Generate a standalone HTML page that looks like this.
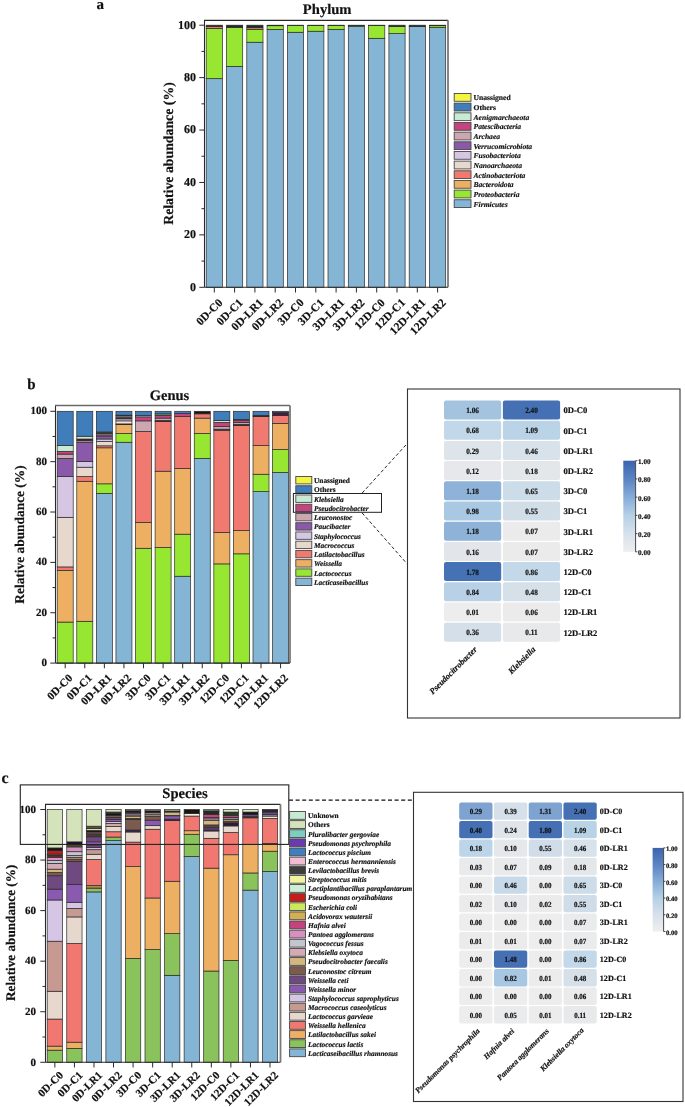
<!DOCTYPE html>
<html><head><meta charset="utf-8"><style>
html,body{margin:0;padding:0;background:#fff;overflow:hidden;}
svg{display:block;font-family:"Liberation Serif", serif;text-rendering:geometricPrecision;will-change:transform;}
text{stroke:#111;stroke-width:0.18px;}
</style></head><body>
<svg width="685" height="1107" viewBox="0 0 685 1107">
<defs><linearGradient id="cb" x1="0" y1="0" x2="0" y2="1">
<stop offset="0" stop-color="#3B63AF"/><stop offset="0.2" stop-color="#5A84C3"/><stop offset="0.4" stop-color="#86ACD7"/>
<stop offset="0.6" stop-color="#B4D0E6"/><stop offset="0.8" stop-color="#D7E1EB"/><stop offset="1" stop-color="#EEEEEE"/>
</linearGradient></defs>
<rect width="685" height="1107" fill="#fff"/>
<text x="96.50" y="9.00" font-size="15" font-weight="bold" text-anchor="start" fill="#111">a</text>
<text x="327.20" y="13.80" font-size="14.6" font-weight="bold" text-anchor="middle" fill="#111">Phylum</text>
<rect x="206.20" y="78.67" width="16.20" height="208.63" fill="#85B5D5" stroke="#2a2a2a" stroke-width="0.7"/>
<rect x="206.20" y="28.35" width="16.20" height="50.32" fill="#97E631" stroke="#2a2a2a" stroke-width="0.7"/>
<rect x="206.20" y="26.38" width="16.20" height="1.97" fill="#F07A70" stroke="#2a2a2a" stroke-width="0.7"/>
<rect x="206.20" y="25.20" width="16.20" height="1.18" fill="#2a2226" stroke="#2a2a2a" stroke-width="0.7"/>
<rect x="226.50" y="66.35" width="16.20" height="220.95" fill="#85B5D5" stroke="#2a2a2a" stroke-width="0.7"/>
<rect x="226.50" y="27.30" width="16.20" height="39.05" fill="#97E631" stroke="#2a2a2a" stroke-width="0.7"/>
<rect x="226.50" y="25.20" width="16.20" height="2.10" fill="#2a2226" stroke="#2a2a2a" stroke-width="0.7"/>
<rect x="246.80" y="42.24" width="16.20" height="245.06" fill="#85B5D5" stroke="#2a2a2a" stroke-width="0.7"/>
<rect x="246.80" y="29.39" width="16.20" height="12.84" fill="#97E631" stroke="#2a2a2a" stroke-width="0.7"/>
<rect x="246.80" y="27.82" width="16.20" height="1.57" fill="#EDAF62" stroke="#2a2a2a" stroke-width="0.7"/>
<rect x="246.80" y="25.20" width="16.20" height="2.62" fill="#2a2226" stroke="#2a2a2a" stroke-width="0.7"/>
<rect x="267.10" y="29.39" width="16.20" height="257.91" fill="#85B5D5" stroke="#2a2a2a" stroke-width="0.7"/>
<rect x="267.10" y="25.72" width="16.20" height="3.67" fill="#97E631" stroke="#2a2a2a" stroke-width="0.7"/>
<rect x="267.10" y="25.20" width="16.20" height="0.52" fill="#2a2226" stroke="#2a2a2a" stroke-width="0.7"/>
<rect x="287.40" y="32.28" width="16.20" height="255.02" fill="#85B5D5" stroke="#2a2a2a" stroke-width="0.7"/>
<rect x="287.40" y="25.46" width="16.20" height="6.81" fill="#97E631" stroke="#2a2a2a" stroke-width="0.7"/>
<rect x="287.40" y="25.20" width="16.20" height="0.26" fill="#2a2226" stroke="#2a2a2a" stroke-width="0.7"/>
<rect x="307.70" y="31.23" width="16.20" height="256.07" fill="#85B5D5" stroke="#2a2a2a" stroke-width="0.7"/>
<rect x="307.70" y="25.46" width="16.20" height="5.77" fill="#97E631" stroke="#2a2a2a" stroke-width="0.7"/>
<rect x="307.70" y="25.20" width="16.20" height="0.26" fill="#2a2226" stroke="#2a2a2a" stroke-width="0.7"/>
<rect x="328.00" y="29.39" width="16.20" height="257.91" fill="#85B5D5" stroke="#2a2a2a" stroke-width="0.7"/>
<rect x="328.00" y="25.46" width="16.20" height="3.93" fill="#97E631" stroke="#2a2a2a" stroke-width="0.7"/>
<rect x="328.00" y="25.20" width="16.20" height="0.26" fill="#2a2226" stroke="#2a2a2a" stroke-width="0.7"/>
<rect x="348.30" y="26.51" width="16.20" height="260.79" fill="#85B5D5" stroke="#2a2a2a" stroke-width="0.7"/>
<rect x="348.30" y="25.46" width="16.20" height="1.05" fill="#97E631" stroke="#2a2a2a" stroke-width="0.7"/>
<rect x="348.30" y="25.20" width="16.20" height="0.26" fill="#2a2226" stroke="#2a2a2a" stroke-width="0.7"/>
<rect x="368.60" y="38.31" width="16.20" height="249.00" fill="#85B5D5" stroke="#2a2a2a" stroke-width="0.7"/>
<rect x="368.60" y="25.46" width="16.20" height="12.84" fill="#97E631" stroke="#2a2a2a" stroke-width="0.7"/>
<rect x="368.60" y="25.20" width="16.20" height="0.26" fill="#2a2226" stroke="#2a2a2a" stroke-width="0.7"/>
<rect x="388.90" y="33.59" width="16.20" height="253.71" fill="#85B5D5" stroke="#2a2a2a" stroke-width="0.7"/>
<rect x="388.90" y="26.51" width="16.20" height="7.08" fill="#97E631" stroke="#2a2a2a" stroke-width="0.7"/>
<rect x="388.90" y="25.20" width="16.20" height="1.31" fill="#2a2226" stroke="#2a2a2a" stroke-width="0.7"/>
<rect x="409.20" y="26.51" width="16.20" height="260.79" fill="#85B5D5" stroke="#2a2a2a" stroke-width="0.7"/>
<rect x="409.20" y="25.20" width="16.20" height="1.31" fill="#2a2226" stroke="#2a2a2a" stroke-width="0.7"/>
<rect x="429.50" y="27.56" width="16.20" height="259.74" fill="#85B5D5" stroke="#2a2a2a" stroke-width="0.7"/>
<rect x="429.50" y="25.72" width="16.20" height="1.83" fill="#97E631" stroke="#2a2a2a" stroke-width="0.7"/>
<rect x="429.50" y="25.20" width="16.20" height="0.52" fill="#2a2226" stroke="#2a2a2a" stroke-width="0.7"/>
<line x1="204.50" y1="20.30" x2="204.50" y2="287.30" stroke="#2a2a2a" stroke-width="1.1"/>
<line x1="204.00" y1="20.30" x2="448.00" y2="20.30" stroke="#2a2a2a" stroke-width="1.3"/>
<line x1="448.00" y1="20.30" x2="448.00" y2="287.30" stroke="#7a7a7a" stroke-width="1.8"/>
<line x1="204.50" y1="287.30" x2="448.00" y2="287.30" stroke="#2a2a2a" stroke-width="1.1"/>
<line x1="199.30" y1="287.30" x2="204.50" y2="287.30" stroke="#2a2a2a" stroke-width="1"/>
<text x="196.00" y="290.70" font-size="12" font-weight="bold" text-anchor="end" fill="#111">0</text>
<line x1="201.50" y1="261.09" x2="204.50" y2="261.09" stroke="#2a2a2a" stroke-width="1"/>
<line x1="199.30" y1="234.88" x2="204.50" y2="234.88" stroke="#2a2a2a" stroke-width="1"/>
<text x="196.00" y="238.28" font-size="12" font-weight="bold" text-anchor="end" fill="#111">20</text>
<line x1="201.50" y1="208.67" x2="204.50" y2="208.67" stroke="#2a2a2a" stroke-width="1"/>
<line x1="199.30" y1="182.46" x2="204.50" y2="182.46" stroke="#2a2a2a" stroke-width="1"/>
<text x="196.00" y="185.86" font-size="12" font-weight="bold" text-anchor="end" fill="#111">40</text>
<line x1="201.50" y1="156.25" x2="204.50" y2="156.25" stroke="#2a2a2a" stroke-width="1"/>
<line x1="199.30" y1="130.04" x2="204.50" y2="130.04" stroke="#2a2a2a" stroke-width="1"/>
<text x="196.00" y="133.44" font-size="12" font-weight="bold" text-anchor="end" fill="#111">60</text>
<line x1="201.50" y1="103.83" x2="204.50" y2="103.83" stroke="#2a2a2a" stroke-width="1"/>
<line x1="199.30" y1="77.62" x2="204.50" y2="77.62" stroke="#2a2a2a" stroke-width="1"/>
<text x="196.00" y="81.02" font-size="12" font-weight="bold" text-anchor="end" fill="#111">80</text>
<line x1="201.50" y1="51.41" x2="204.50" y2="51.41" stroke="#2a2a2a" stroke-width="1"/>
<line x1="199.30" y1="25.20" x2="204.50" y2="25.20" stroke="#2a2a2a" stroke-width="1"/>
<text x="196.00" y="28.60" font-size="12" font-weight="bold" text-anchor="end" fill="#111">100</text>
<line x1="214.30" y1="287.30" x2="214.30" y2="292.50" stroke="#2a2a2a" stroke-width="1"/>
<text x="223.30" y="303.30" font-size="11.5" font-weight="bold" text-anchor="end" transform="rotate(-45 223.30 303.30)" fill="#111">0D-C0</text>
<line x1="234.60" y1="287.30" x2="234.60" y2="292.50" stroke="#2a2a2a" stroke-width="1"/>
<text x="243.60" y="303.30" font-size="11.5" font-weight="bold" text-anchor="end" transform="rotate(-45 243.60 303.30)" fill="#111">0D-C1</text>
<line x1="254.90" y1="287.30" x2="254.90" y2="292.50" stroke="#2a2a2a" stroke-width="1"/>
<text x="263.90" y="303.30" font-size="11.5" font-weight="bold" text-anchor="end" transform="rotate(-45 263.90 303.30)" fill="#111">0D-LR1</text>
<line x1="275.20" y1="287.30" x2="275.20" y2="292.50" stroke="#2a2a2a" stroke-width="1"/>
<text x="284.20" y="303.30" font-size="11.5" font-weight="bold" text-anchor="end" transform="rotate(-45 284.20 303.30)" fill="#111">0D-LR2</text>
<line x1="295.50" y1="287.30" x2="295.50" y2="292.50" stroke="#2a2a2a" stroke-width="1"/>
<text x="304.50" y="303.30" font-size="11.5" font-weight="bold" text-anchor="end" transform="rotate(-45 304.50 303.30)" fill="#111">3D-C0</text>
<line x1="315.80" y1="287.30" x2="315.80" y2="292.50" stroke="#2a2a2a" stroke-width="1"/>
<text x="324.80" y="303.30" font-size="11.5" font-weight="bold" text-anchor="end" transform="rotate(-45 324.80 303.30)" fill="#111">3D-C1</text>
<line x1="336.10" y1="287.30" x2="336.10" y2="292.50" stroke="#2a2a2a" stroke-width="1"/>
<text x="345.10" y="303.30" font-size="11.5" font-weight="bold" text-anchor="end" transform="rotate(-45 345.10 303.30)" fill="#111">3D-LR1</text>
<line x1="356.40" y1="287.30" x2="356.40" y2="292.50" stroke="#2a2a2a" stroke-width="1"/>
<text x="365.40" y="303.30" font-size="11.5" font-weight="bold" text-anchor="end" transform="rotate(-45 365.40 303.30)" fill="#111">3D-LR2</text>
<line x1="376.70" y1="287.30" x2="376.70" y2="292.50" stroke="#2a2a2a" stroke-width="1"/>
<text x="385.70" y="303.30" font-size="11.5" font-weight="bold" text-anchor="end" transform="rotate(-45 385.70 303.30)" fill="#111">12D-C0</text>
<line x1="397.00" y1="287.30" x2="397.00" y2="292.50" stroke="#2a2a2a" stroke-width="1"/>
<text x="406.00" y="303.30" font-size="11.5" font-weight="bold" text-anchor="end" transform="rotate(-45 406.00 303.30)" fill="#111">12D-C1</text>
<line x1="417.30" y1="287.30" x2="417.30" y2="292.50" stroke="#2a2a2a" stroke-width="1"/>
<text x="426.30" y="303.30" font-size="11.5" font-weight="bold" text-anchor="end" transform="rotate(-45 426.30 303.30)" fill="#111">12D-LR1</text>
<line x1="437.60" y1="287.30" x2="437.60" y2="292.50" stroke="#2a2a2a" stroke-width="1"/>
<text x="446.60" y="303.30" font-size="11.5" font-weight="bold" text-anchor="end" transform="rotate(-45 446.60 303.30)" fill="#111">12D-LR2</text>
<text x="172.50" y="153.50" font-size="13.8" font-weight="bold" text-anchor="middle" transform="rotate(-90 172.5 153.5)" fill="#111">Relative abundance (%)</text>
<rect x="454.20" y="93.50" width="16.80" height="7.80" fill="#F4F443" stroke="#464646" stroke-width="0.9"/>
<text x="473.50" y="100.30" font-size="7.6" font-weight="bold" text-anchor="start" fill="#111">Unassigned</text>
<rect x="454.20" y="103.16" width="16.80" height="7.80" fill="#3F7EBB" stroke="#464646" stroke-width="0.9"/>
<text x="473.50" y="109.96" font-size="7.6" font-weight="bold" text-anchor="start" fill="#111">Others</text>
<rect x="454.20" y="112.82" width="16.80" height="7.80" fill="#C8EAD3" stroke="#464646" stroke-width="0.9"/>
<text x="473.50" y="119.62" font-size="7.6" font-weight="bold" font-style="italic" text-anchor="start" fill="#111">Aenigmarchaeota</text>
<rect x="454.20" y="122.48" width="16.80" height="7.80" fill="#C4447F" stroke="#464646" stroke-width="0.9"/>
<text x="473.50" y="129.28" font-size="7.6" font-weight="bold" font-style="italic" text-anchor="start" fill="#111">Patescibacteria</text>
<rect x="454.20" y="132.14" width="16.80" height="7.80" fill="#CCA7B1" stroke="#464646" stroke-width="0.9"/>
<text x="473.50" y="138.94" font-size="7.6" font-weight="bold" font-style="italic" text-anchor="start" fill="#111">Archaea</text>
<rect x="454.20" y="141.80" width="16.80" height="7.80" fill="#8A59AA" stroke="#464646" stroke-width="0.9"/>
<text x="473.50" y="148.60" font-size="7.6" font-weight="bold" font-style="italic" text-anchor="start" fill="#111">Verrucomicrobiota</text>
<rect x="454.20" y="151.46" width="16.80" height="7.80" fill="#D6C6E4" stroke="#464646" stroke-width="0.9"/>
<text x="473.50" y="158.26" font-size="7.6" font-weight="bold" font-style="italic" text-anchor="start" fill="#111">Fusobacteriota</text>
<rect x="454.20" y="161.12" width="16.80" height="7.80" fill="#E6D8CC" stroke="#464646" stroke-width="0.9"/>
<text x="473.50" y="167.92" font-size="7.6" font-weight="bold" font-style="italic" text-anchor="start" fill="#111">Nanoarchaeota</text>
<rect x="454.20" y="170.78" width="16.80" height="7.80" fill="#F07A70" stroke="#464646" stroke-width="0.9"/>
<text x="473.50" y="177.58" font-size="7.6" font-weight="bold" font-style="italic" text-anchor="start" fill="#111">Actinobacteriota</text>
<rect x="454.20" y="180.44" width="16.80" height="7.80" fill="#EDAF62" stroke="#464646" stroke-width="0.9"/>
<text x="473.50" y="187.24" font-size="7.6" font-weight="bold" font-style="italic" text-anchor="start" fill="#111">Bacteroidota</text>
<rect x="454.20" y="190.10" width="16.80" height="7.80" fill="#97E631" stroke="#464646" stroke-width="0.9"/>
<text x="473.50" y="196.90" font-size="7.6" font-weight="bold" font-style="italic" text-anchor="start" fill="#111">Proteobacteria</text>
<rect x="454.20" y="199.76" width="16.80" height="7.80" fill="#85B5D5" stroke="#464646" stroke-width="0.9"/>
<text x="473.50" y="206.56" font-size="7.6" font-weight="bold" font-style="italic" text-anchor="start" fill="#111">Firmicutes</text>
<text x="27.30" y="389.40" font-size="15" font-weight="bold" text-anchor="start" fill="#111">b</text>
<text x="169.50" y="399.60" font-size="14.5" font-weight="bold" text-anchor="middle" fill="#111">Genus</text>
<rect x="57.20" y="622.06" width="16.00" height="41.04" fill="#97E631" stroke="#2a2a2a" stroke-width="0.7"/>
<rect x="57.20" y="570.44" width="16.00" height="51.62" fill="#EDAF62" stroke="#2a2a2a" stroke-width="0.7"/>
<rect x="57.20" y="566.91" width="16.00" height="3.53" fill="#F07A70" stroke="#2a2a2a" stroke-width="0.7"/>
<rect x="57.20" y="517.31" width="16.00" height="49.60" fill="#E6D8CC" stroke="#2a2a2a" stroke-width="0.7"/>
<rect x="57.20" y="476.52" width="16.00" height="40.79" fill="#D6C6E4" stroke="#2a2a2a" stroke-width="0.7"/>
<rect x="57.20" y="458.39" width="16.00" height="18.13" fill="#8A59AA" stroke="#2a2a2a" stroke-width="0.7"/>
<rect x="57.20" y="454.11" width="16.00" height="4.28" fill="#CCA7B1" stroke="#2a2a2a" stroke-width="0.7"/>
<rect x="57.20" y="451.34" width="16.00" height="2.77" fill="#C4447F" stroke="#2a2a2a" stroke-width="0.7"/>
<rect x="57.20" y="445.54" width="16.00" height="5.79" fill="#C8EAD3" stroke="#2a2a2a" stroke-width="0.7"/>
<rect x="57.20" y="411.30" width="16.00" height="34.24" fill="#3F7EBB" stroke="#2a2a2a" stroke-width="0.7"/>
<rect x="76.78" y="621.30" width="16.00" height="41.80" fill="#97E631" stroke="#2a2a2a" stroke-width="0.7"/>
<rect x="76.78" y="481.30" width="16.00" height="140.00" fill="#EDAF62" stroke="#2a2a2a" stroke-width="0.7"/>
<rect x="76.78" y="476.52" width="16.00" height="4.78" fill="#F07A70" stroke="#2a2a2a" stroke-width="0.7"/>
<rect x="76.78" y="467.20" width="16.00" height="9.32" fill="#E6D8CC" stroke="#2a2a2a" stroke-width="0.7"/>
<rect x="76.78" y="461.41" width="16.00" height="5.79" fill="#D6C6E4" stroke="#2a2a2a" stroke-width="0.7"/>
<rect x="76.78" y="442.27" width="16.00" height="19.14" fill="#8A59AA" stroke="#2a2a2a" stroke-width="0.7"/>
<rect x="76.78" y="440.76" width="16.00" height="1.51" fill="#CCA7B1" stroke="#2a2a2a" stroke-width="0.7"/>
<rect x="76.78" y="439.00" width="16.00" height="1.76" fill="#5a1a38" stroke="#2a2a2a" stroke-width="0.7"/>
<rect x="76.78" y="436.23" width="16.00" height="2.77" fill="#C8EAD3" stroke="#2a2a2a" stroke-width="0.7"/>
<rect x="76.78" y="411.30" width="16.00" height="24.93" fill="#3F7EBB" stroke="#2a2a2a" stroke-width="0.7"/>
<rect x="96.36" y="493.39" width="16.00" height="169.71" fill="#85B5D5" stroke="#2a2a2a" stroke-width="0.7"/>
<rect x="96.36" y="483.82" width="16.00" height="9.57" fill="#97E631" stroke="#2a2a2a" stroke-width="0.7"/>
<rect x="96.36" y="447.81" width="16.00" height="36.01" fill="#EDAF62" stroke="#2a2a2a" stroke-width="0.7"/>
<rect x="96.36" y="445.80" width="16.00" height="2.01" fill="#F07A70" stroke="#2a2a2a" stroke-width="0.7"/>
<rect x="96.36" y="441.52" width="16.00" height="4.28" fill="#E6D8CC" stroke="#2a2a2a" stroke-width="0.7"/>
<rect x="96.36" y="439.00" width="16.00" height="2.52" fill="#D6C6E4" stroke="#2a2a2a" stroke-width="0.7"/>
<rect x="96.36" y="435.98" width="16.00" height="3.02" fill="#8A59AA" stroke="#2a2a2a" stroke-width="0.7"/>
<rect x="96.36" y="433.46" width="16.00" height="2.52" fill="#7a6470" stroke="#2a2a2a" stroke-width="0.7"/>
<rect x="96.36" y="431.95" width="16.00" height="1.51" fill="#4a4a3a" stroke="#2a2a2a" stroke-width="0.7"/>
<rect x="96.36" y="411.30" width="16.00" height="20.65" fill="#3F7EBB" stroke="#2a2a2a" stroke-width="0.7"/>
<rect x="115.94" y="442.27" width="16.00" height="220.83" fill="#85B5D5" stroke="#2a2a2a" stroke-width="0.7"/>
<rect x="115.94" y="433.46" width="16.00" height="8.81" fill="#97E631" stroke="#2a2a2a" stroke-width="0.7"/>
<rect x="115.94" y="424.65" width="16.00" height="8.81" fill="#EDAF62" stroke="#2a2a2a" stroke-width="0.7"/>
<rect x="115.94" y="423.89" width="16.00" height="0.76" fill="#6a5040" stroke="#2a2a2a" stroke-width="0.7"/>
<rect x="115.94" y="420.87" width="16.00" height="3.02" fill="#F2E6DA" stroke="#2a2a2a" stroke-width="0.7"/>
<rect x="115.94" y="418.85" width="16.00" height="2.01" fill="#D6C6E4" stroke="#2a2a2a" stroke-width="0.7"/>
<rect x="115.94" y="417.60" width="16.00" height="1.26" fill="#3a2a40" stroke="#2a2a2a" stroke-width="0.7"/>
<rect x="115.94" y="415.96" width="16.00" height="1.64" fill="#CCA7B1" stroke="#2a2a2a" stroke-width="0.7"/>
<rect x="115.94" y="415.18" width="16.00" height="0.78" fill="#151515" stroke="#2a2a2a" stroke-width="0.7"/>
<rect x="115.94" y="411.30" width="16.00" height="3.88" fill="#3F7EBB" stroke="#2a2a2a" stroke-width="0.7"/>
<rect x="135.52" y="548.28" width="16.00" height="114.82" fill="#97E631" stroke="#2a2a2a" stroke-width="0.7"/>
<rect x="135.52" y="522.34" width="16.00" height="25.94" fill="#EDAF62" stroke="#2a2a2a" stroke-width="0.7"/>
<rect x="135.52" y="431.44" width="16.00" height="90.90" fill="#F07A70" stroke="#2a2a2a" stroke-width="0.7"/>
<rect x="135.52" y="420.87" width="16.00" height="10.58" fill="#CCA7B1" stroke="#2a2a2a" stroke-width="0.7"/>
<rect x="135.52" y="416.84" width="16.00" height="4.03" fill="#C4447F" stroke="#2a2a2a" stroke-width="0.7"/>
<rect x="135.52" y="415.58" width="16.00" height="1.26" fill="#C8EAD3" stroke="#2a2a2a" stroke-width="0.7"/>
<rect x="135.52" y="411.30" width="16.00" height="4.28" fill="#3F7EBB" stroke="#2a2a2a" stroke-width="0.7"/>
<rect x="155.10" y="547.52" width="16.00" height="115.58" fill="#97E631" stroke="#2a2a2a" stroke-width="0.7"/>
<rect x="155.10" y="471.23" width="16.00" height="76.30" fill="#EDAF62" stroke="#2a2a2a" stroke-width="0.7"/>
<rect x="155.10" y="421.62" width="16.00" height="49.60" fill="#F07A70" stroke="#2a2a2a" stroke-width="0.7"/>
<rect x="155.10" y="420.36" width="16.00" height="1.26" fill="#3a2030" stroke="#2a2a2a" stroke-width="0.7"/>
<rect x="155.10" y="418.10" width="16.00" height="2.27" fill="#CCA7B1" stroke="#2a2a2a" stroke-width="0.7"/>
<rect x="155.10" y="415.58" width="16.00" height="2.52" fill="#C4447F" stroke="#2a2a2a" stroke-width="0.7"/>
<rect x="155.10" y="413.82" width="16.00" height="1.76" fill="#7a9a70" stroke="#2a2a2a" stroke-width="0.7"/>
<rect x="155.10" y="411.30" width="16.00" height="2.52" fill="#3F7EBB" stroke="#2a2a2a" stroke-width="0.7"/>
<rect x="174.68" y="576.23" width="16.00" height="86.87" fill="#85B5D5" stroke="#2a2a2a" stroke-width="0.7"/>
<rect x="174.68" y="534.18" width="16.00" height="42.05" fill="#97E631" stroke="#2a2a2a" stroke-width="0.7"/>
<rect x="174.68" y="468.46" width="16.00" height="65.72" fill="#EDAF62" stroke="#2a2a2a" stroke-width="0.7"/>
<rect x="174.68" y="416.59" width="16.00" height="51.87" fill="#F07A70" stroke="#2a2a2a" stroke-width="0.7"/>
<rect x="174.68" y="413.57" width="16.00" height="3.02" fill="#C4447F" stroke="#2a2a2a" stroke-width="0.7"/>
<rect x="174.68" y="411.30" width="16.00" height="2.27" fill="#3F7EBB" stroke="#2a2a2a" stroke-width="0.7"/>
<rect x="194.26" y="458.39" width="16.00" height="204.71" fill="#85B5D5" stroke="#2a2a2a" stroke-width="0.7"/>
<rect x="194.26" y="433.46" width="16.00" height="24.93" fill="#97E631" stroke="#2a2a2a" stroke-width="0.7"/>
<rect x="194.26" y="418.10" width="16.00" height="15.36" fill="#EDAF62" stroke="#2a2a2a" stroke-width="0.7"/>
<rect x="194.26" y="413.82" width="16.00" height="4.28" fill="#F07A70" stroke="#2a2a2a" stroke-width="0.7"/>
<rect x="194.26" y="411.30" width="16.00" height="2.52" fill="#151515" stroke="#2a2a2a" stroke-width="0.7"/>
<rect x="213.84" y="563.89" width="16.00" height="99.21" fill="#97E631" stroke="#2a2a2a" stroke-width="0.7"/>
<rect x="213.84" y="532.42" width="16.00" height="31.48" fill="#EDAF62" stroke="#2a2a2a" stroke-width="0.7"/>
<rect x="213.84" y="430.19" width="16.00" height="102.23" fill="#F07A70" stroke="#2a2a2a" stroke-width="0.7"/>
<rect x="213.84" y="429.18" width="16.00" height="1.01" fill="#3a2030" stroke="#2a2a2a" stroke-width="0.7"/>
<rect x="213.84" y="426.66" width="16.00" height="2.52" fill="#CCA7B1" stroke="#2a2a2a" stroke-width="0.7"/>
<rect x="213.84" y="422.38" width="16.00" height="4.28" fill="#C4447F" stroke="#2a2a2a" stroke-width="0.7"/>
<rect x="213.84" y="420.36" width="16.00" height="2.01" fill="#C8EAD3" stroke="#2a2a2a" stroke-width="0.7"/>
<rect x="213.84" y="411.30" width="16.00" height="9.06" fill="#3F7EBB" stroke="#2a2a2a" stroke-width="0.7"/>
<rect x="233.42" y="553.82" width="16.00" height="109.28" fill="#97E631" stroke="#2a2a2a" stroke-width="0.7"/>
<rect x="233.42" y="530.65" width="16.00" height="23.17" fill="#EDAF62" stroke="#2a2a2a" stroke-width="0.7"/>
<rect x="233.42" y="425.40" width="16.00" height="105.25" fill="#F07A70" stroke="#2a2a2a" stroke-width="0.7"/>
<rect x="233.42" y="424.14" width="16.00" height="1.26" fill="#2a2030" stroke="#2a2a2a" stroke-width="0.7"/>
<rect x="233.42" y="422.63" width="16.00" height="1.51" fill="#E8C8D0" stroke="#2a2a2a" stroke-width="0.7"/>
<rect x="233.42" y="420.62" width="16.00" height="2.01" fill="#C4447F" stroke="#2a2a2a" stroke-width="0.7"/>
<rect x="233.42" y="419.36" width="16.00" height="1.26" fill="#8aa070" stroke="#2a2a2a" stroke-width="0.7"/>
<rect x="233.42" y="411.30" width="16.00" height="8.06" fill="#3F7EBB" stroke="#2a2a2a" stroke-width="0.7"/>
<rect x="253.00" y="491.62" width="16.00" height="171.48" fill="#85B5D5" stroke="#2a2a2a" stroke-width="0.7"/>
<rect x="253.00" y="474.25" width="16.00" height="17.37" fill="#97E631" stroke="#2a2a2a" stroke-width="0.7"/>
<rect x="253.00" y="445.54" width="16.00" height="28.71" fill="#EDAF62" stroke="#2a2a2a" stroke-width="0.7"/>
<rect x="253.00" y="416.59" width="16.00" height="28.96" fill="#F07A70" stroke="#2a2a2a" stroke-width="0.7"/>
<rect x="253.00" y="415.33" width="16.00" height="1.26" fill="#151515" stroke="#2a2a2a" stroke-width="0.7"/>
<rect x="253.00" y="411.30" width="16.00" height="4.03" fill="#3F7EBB" stroke="#2a2a2a" stroke-width="0.7"/>
<rect x="272.58" y="472.49" width="16.00" height="190.61" fill="#85B5D5" stroke="#2a2a2a" stroke-width="0.7"/>
<rect x="272.58" y="449.57" width="16.00" height="22.91" fill="#97E631" stroke="#2a2a2a" stroke-width="0.7"/>
<rect x="272.58" y="423.39" width="16.00" height="26.19" fill="#EDAF62" stroke="#2a2a2a" stroke-width="0.7"/>
<rect x="272.58" y="415.58" width="16.00" height="7.81" fill="#F07A70" stroke="#2a2a2a" stroke-width="0.7"/>
<rect x="272.58" y="412.56" width="16.00" height="3.02" fill="#4a1a3a" stroke="#2a2a2a" stroke-width="0.7"/>
<rect x="272.58" y="411.30" width="16.00" height="1.26" fill="#3F7EBB" stroke="#2a2a2a" stroke-width="0.7"/>
<line x1="55.50" y1="405.50" x2="55.50" y2="663.10" stroke="#2a2a2a" stroke-width="1.1"/>
<line x1="55.00" y1="405.50" x2="290.00" y2="405.50" stroke="#6a6a6a" stroke-width="1.3"/>
<line x1="290.00" y1="405.50" x2="290.00" y2="663.10" stroke="#7a7a7a" stroke-width="1.8"/>
<line x1="55.50" y1="663.10" x2="290.00" y2="663.10" stroke="#2a2a2a" stroke-width="1.1"/>
<line x1="50.30" y1="663.10" x2="55.50" y2="663.10" stroke="#2a2a2a" stroke-width="1"/>
<text x="47.00" y="666.20" font-size="11" font-weight="bold" text-anchor="end" fill="#111">0</text>
<line x1="52.50" y1="637.92" x2="55.50" y2="637.92" stroke="#2a2a2a" stroke-width="1"/>
<line x1="50.30" y1="612.74" x2="55.50" y2="612.74" stroke="#2a2a2a" stroke-width="1"/>
<text x="47.00" y="615.84" font-size="11" font-weight="bold" text-anchor="end" fill="#111">20</text>
<line x1="52.50" y1="587.56" x2="55.50" y2="587.56" stroke="#2a2a2a" stroke-width="1"/>
<line x1="50.30" y1="562.38" x2="55.50" y2="562.38" stroke="#2a2a2a" stroke-width="1"/>
<text x="47.00" y="565.48" font-size="11" font-weight="bold" text-anchor="end" fill="#111">40</text>
<line x1="52.50" y1="537.20" x2="55.50" y2="537.20" stroke="#2a2a2a" stroke-width="1"/>
<line x1="50.30" y1="512.02" x2="55.50" y2="512.02" stroke="#2a2a2a" stroke-width="1"/>
<text x="47.00" y="515.12" font-size="11" font-weight="bold" text-anchor="end" fill="#111">60</text>
<line x1="52.50" y1="486.84" x2="55.50" y2="486.84" stroke="#2a2a2a" stroke-width="1"/>
<line x1="50.30" y1="461.66" x2="55.50" y2="461.66" stroke="#2a2a2a" stroke-width="1"/>
<text x="47.00" y="464.76" font-size="11" font-weight="bold" text-anchor="end" fill="#111">80</text>
<line x1="52.50" y1="436.48" x2="55.50" y2="436.48" stroke="#2a2a2a" stroke-width="1"/>
<line x1="50.30" y1="411.30" x2="55.50" y2="411.30" stroke="#2a2a2a" stroke-width="1"/>
<text x="47.00" y="414.40" font-size="11" font-weight="bold" text-anchor="end" fill="#111">100</text>
<line x1="65.20" y1="663.10" x2="65.20" y2="668.30" stroke="#2a2a2a" stroke-width="1"/>
<text x="73.20" y="678.60" font-size="11.1" font-weight="bold" text-anchor="end" transform="rotate(-45 73.20 678.60)" fill="#111">0D-C0</text>
<line x1="84.78" y1="663.10" x2="84.78" y2="668.30" stroke="#2a2a2a" stroke-width="1"/>
<text x="92.78" y="678.60" font-size="11.1" font-weight="bold" text-anchor="end" transform="rotate(-45 92.78 678.60)" fill="#111">0D-C1</text>
<line x1="104.36" y1="663.10" x2="104.36" y2="668.30" stroke="#2a2a2a" stroke-width="1"/>
<text x="112.36" y="678.60" font-size="11.1" font-weight="bold" text-anchor="end" transform="rotate(-45 112.36 678.60)" fill="#111">0D-LR1</text>
<line x1="123.94" y1="663.10" x2="123.94" y2="668.30" stroke="#2a2a2a" stroke-width="1"/>
<text x="131.94" y="678.60" font-size="11.1" font-weight="bold" text-anchor="end" transform="rotate(-45 131.94 678.60)" fill="#111">0D-LR2</text>
<line x1="143.52" y1="663.10" x2="143.52" y2="668.30" stroke="#2a2a2a" stroke-width="1"/>
<text x="151.52" y="678.60" font-size="11.1" font-weight="bold" text-anchor="end" transform="rotate(-45 151.52 678.60)" fill="#111">3D-C0</text>
<line x1="163.10" y1="663.10" x2="163.10" y2="668.30" stroke="#2a2a2a" stroke-width="1"/>
<text x="171.10" y="678.60" font-size="11.1" font-weight="bold" text-anchor="end" transform="rotate(-45 171.10 678.60)" fill="#111">3D-C1</text>
<line x1="182.68" y1="663.10" x2="182.68" y2="668.30" stroke="#2a2a2a" stroke-width="1"/>
<text x="190.68" y="678.60" font-size="11.1" font-weight="bold" text-anchor="end" transform="rotate(-45 190.68 678.60)" fill="#111">3D-LR1</text>
<line x1="202.26" y1="663.10" x2="202.26" y2="668.30" stroke="#2a2a2a" stroke-width="1"/>
<text x="210.26" y="678.60" font-size="11.1" font-weight="bold" text-anchor="end" transform="rotate(-45 210.26 678.60)" fill="#111">3D-LR2</text>
<line x1="221.84" y1="663.10" x2="221.84" y2="668.30" stroke="#2a2a2a" stroke-width="1"/>
<text x="229.84" y="678.60" font-size="11.1" font-weight="bold" text-anchor="end" transform="rotate(-45 229.84 678.60)" fill="#111">12D-C0</text>
<line x1="241.42" y1="663.10" x2="241.42" y2="668.30" stroke="#2a2a2a" stroke-width="1"/>
<text x="249.42" y="678.60" font-size="11.1" font-weight="bold" text-anchor="end" transform="rotate(-45 249.42 678.60)" fill="#111">12D-C1</text>
<line x1="261.00" y1="663.10" x2="261.00" y2="668.30" stroke="#2a2a2a" stroke-width="1"/>
<text x="269.00" y="678.60" font-size="11.1" font-weight="bold" text-anchor="end" transform="rotate(-45 269.00 678.60)" fill="#111">12D-LR1</text>
<line x1="280.58" y1="663.10" x2="280.58" y2="668.30" stroke="#2a2a2a" stroke-width="1"/>
<text x="288.58" y="678.60" font-size="11.1" font-weight="bold" text-anchor="end" transform="rotate(-45 288.58 678.60)" fill="#111">12D-LR2</text>
<text x="24.00" y="534.50" font-size="13.4" font-weight="bold" text-anchor="middle" transform="rotate(-90 24.0 534.5)" fill="#111">Relative abundance (%)</text>
<rect x="295.80" y="476.50" width="16.00" height="7.40" fill="#F4F443" stroke="#464646" stroke-width="0.9"/>
<text x="314.00" y="483.10" font-size="7.35" font-weight="bold" text-anchor="start" fill="#111">Unassigned</text>
<rect x="295.80" y="485.74" width="16.00" height="7.40" fill="#3F7EBB" stroke="#464646" stroke-width="0.9"/>
<text x="314.00" y="492.34" font-size="7.35" font-weight="bold" text-anchor="start" fill="#111">Others</text>
<rect x="295.80" y="494.98" width="16.00" height="7.40" fill="#C8EAD3" stroke="#464646" stroke-width="0.9"/>
<text x="314.00" y="501.58" font-size="7.35" font-weight="bold" font-style="italic" text-anchor="start" fill="#111">Klebsiella</text>
<rect x="295.80" y="504.22" width="16.00" height="7.40" fill="#C4447F" stroke="#464646" stroke-width="0.9"/>
<text x="314.00" y="510.82" font-size="7.35" font-weight="bold" font-style="italic" text-anchor="start" fill="#111">Pseudocitrobacter</text>
<rect x="295.80" y="513.46" width="16.00" height="7.40" fill="#CCA7B1" stroke="#464646" stroke-width="0.9"/>
<text x="314.00" y="520.06" font-size="7.35" font-weight="bold" font-style="italic" text-anchor="start" fill="#111">Leuconostoc</text>
<rect x="295.80" y="522.70" width="16.00" height="7.40" fill="#8A59AA" stroke="#464646" stroke-width="0.9"/>
<text x="314.00" y="529.30" font-size="7.35" font-weight="bold" font-style="italic" text-anchor="start" fill="#111">Paucibacter</text>
<rect x="295.80" y="531.94" width="16.00" height="7.40" fill="#D6C6E4" stroke="#464646" stroke-width="0.9"/>
<text x="314.00" y="538.54" font-size="7.35" font-weight="bold" font-style="italic" text-anchor="start" fill="#111">Staphylococcus</text>
<rect x="295.80" y="541.18" width="16.00" height="7.40" fill="#E6D8CC" stroke="#464646" stroke-width="0.9"/>
<text x="314.00" y="547.78" font-size="7.35" font-weight="bold" font-style="italic" text-anchor="start" fill="#111">Macrococcus</text>
<rect x="295.80" y="550.42" width="16.00" height="7.40" fill="#F07A70" stroke="#464646" stroke-width="0.9"/>
<text x="314.00" y="557.02" font-size="7.35" font-weight="bold" font-style="italic" text-anchor="start" fill="#111">Latilactobacillus</text>
<rect x="295.80" y="559.66" width="16.00" height="7.40" fill="#EDAF62" stroke="#464646" stroke-width="0.9"/>
<text x="314.00" y="566.26" font-size="7.35" font-weight="bold" font-style="italic" text-anchor="start" fill="#111">Weissella</text>
<rect x="295.80" y="568.90" width="16.00" height="7.40" fill="#97E631" stroke="#464646" stroke-width="0.9"/>
<text x="314.00" y="575.50" font-size="7.35" font-weight="bold" font-style="italic" text-anchor="start" fill="#111">Lactococcus</text>
<rect x="295.80" y="578.14" width="16.00" height="7.40" fill="#85B5D5" stroke="#464646" stroke-width="0.9"/>
<text x="314.00" y="584.74" font-size="7.35" font-weight="bold" font-style="italic" text-anchor="start" fill="#111">Lacticaseibacillus</text>
<rect x="293.40" y="493.50" width="88.10" height="18.80" fill="none" stroke="#222" stroke-width="1.0"/>
<line x1="362.20" y1="493.00" x2="406.80" y2="444.00" stroke="#222" stroke-width="1.0" stroke-dasharray="3.3,2.3"/>
<line x1="362.20" y1="513.00" x2="406.80" y2="563.50" stroke="#222" stroke-width="1.0" stroke-dasharray="3.3,2.3"/>
<rect x="407.50" y="389.00" width="272.50" height="329.00" fill="white" stroke="#333" stroke-width="1.1"/>
<rect x="444.00" y="400.50" width="57.20" height="19.00" fill="#A3C3DE" rx="2"/>
<text x="0.00" y="0.00" font-size="8.1" font-weight="bold" stroke="#111" stroke-width="0.3" text-anchor="middle" transform="translate(472.60 413.17) scale(0.9 1)" fill="#111">1.06</text>
<rect x="502.90" y="400.50" width="57.20" height="19.00" fill="#4570B4" rx="2"/>
<text x="0.00" y="0.00" font-size="8.1" font-weight="bold" stroke="#111" stroke-width="0.3" text-anchor="middle" transform="translate(531.50 413.17) scale(0.9 1)" fill="#111">2.40</text>
<text x="563.50" y="413.32" font-size="8.6" font-weight="bold" text-anchor="start" fill="#111">0D-C0</text>
<rect x="444.00" y="420.70" width="57.20" height="19.00" fill="#C2D7E7" rx="2"/>
<text x="0.00" y="0.00" font-size="8.1" font-weight="bold" stroke="#111" stroke-width="0.3" text-anchor="middle" transform="translate(472.60 433.37) scale(0.9 1)" fill="#111">0.68</text>
<rect x="502.90" y="420.70" width="57.20" height="19.00" fill="#BAD3E6" rx="2"/>
<text x="0.00" y="0.00" font-size="8.1" font-weight="bold" stroke="#111" stroke-width="0.3" text-anchor="middle" transform="translate(531.50 433.37) scale(0.9 1)" fill="#111">1.09</text>
<text x="563.50" y="433.52" font-size="8.6" font-weight="bold" text-anchor="start" fill="#111">0D-C1</text>
<rect x="444.00" y="440.90" width="57.20" height="19.00" fill="#DDE4EA" rx="2"/>
<text x="0.00" y="0.00" font-size="8.1" font-weight="bold" stroke="#111" stroke-width="0.3" text-anchor="middle" transform="translate(472.60 453.57) scale(0.9 1)" fill="#111">0.29</text>
<rect x="502.90" y="440.90" width="57.20" height="19.00" fill="#D8E2EA" rx="2"/>
<text x="0.00" y="0.00" font-size="8.1" font-weight="bold" stroke="#111" stroke-width="0.3" text-anchor="middle" transform="translate(531.50 453.57) scale(0.9 1)" fill="#111">0.46</text>
<text x="563.50" y="453.72" font-size="8.6" font-weight="bold" text-anchor="start" fill="#111">0D-LR1</text>
<rect x="444.00" y="461.10" width="57.20" height="19.00" fill="#E6E8EB" rx="2"/>
<text x="0.00" y="0.00" font-size="8.1" font-weight="bold" stroke="#111" stroke-width="0.3" text-anchor="middle" transform="translate(472.60 473.77) scale(0.9 1)" fill="#111">0.12</text>
<rect x="502.90" y="461.10" width="57.20" height="19.00" fill="#E3E7EA" rx="2"/>
<text x="0.00" y="0.00" font-size="8.1" font-weight="bold" stroke="#111" stroke-width="0.3" text-anchor="middle" transform="translate(531.50 473.77) scale(0.9 1)" fill="#111">0.18</text>
<text x="563.50" y="473.92" font-size="8.6" font-weight="bold" text-anchor="start" fill="#111">0D-LR2</text>
<rect x="444.00" y="481.30" width="57.20" height="19.00" fill="#8FB3D8" rx="2"/>
<text x="0.00" y="0.00" font-size="8.1" font-weight="bold" stroke="#111" stroke-width="0.3" text-anchor="middle" transform="translate(472.60 493.97) scale(0.9 1)" fill="#111">1.18</text>
<rect x="502.90" y="481.30" width="57.20" height="19.00" fill="#CCDCE8" rx="2"/>
<text x="0.00" y="0.00" font-size="8.1" font-weight="bold" stroke="#111" stroke-width="0.3" text-anchor="middle" transform="translate(531.50 493.97) scale(0.9 1)" fill="#111">0.65</text>
<text x="563.50" y="494.12" font-size="8.6" font-weight="bold" text-anchor="start" fill="#111">3D-C0</text>
<rect x="444.00" y="501.50" width="57.20" height="19.00" fill="#A9C8E2" rx="2"/>
<text x="0.00" y="0.00" font-size="8.1" font-weight="bold" stroke="#111" stroke-width="0.3" text-anchor="middle" transform="translate(472.60 514.17) scale(0.9 1)" fill="#111">0.98</text>
<rect x="502.90" y="501.50" width="57.20" height="19.00" fill="#D1DEE8" rx="2"/>
<text x="0.00" y="0.00" font-size="8.1" font-weight="bold" stroke="#111" stroke-width="0.3" text-anchor="middle" transform="translate(531.50 514.17) scale(0.9 1)" fill="#111">0.55</text>
<text x="563.50" y="514.32" font-size="8.6" font-weight="bold" text-anchor="start" fill="#111">3D-C1</text>
<rect x="444.00" y="521.70" width="57.20" height="19.00" fill="#8FB3D8" rx="2"/>
<text x="0.00" y="0.00" font-size="8.1" font-weight="bold" stroke="#111" stroke-width="0.3" text-anchor="middle" transform="translate(472.60 534.37) scale(0.9 1)" fill="#111">1.18</text>
<rect x="502.90" y="521.70" width="57.20" height="19.00" fill="#EBEBEB" rx="2"/>
<text x="0.00" y="0.00" font-size="8.1" font-weight="bold" stroke="#111" stroke-width="0.3" text-anchor="middle" transform="translate(531.50 534.37) scale(0.9 1)" fill="#111">0.07</text>
<text x="563.50" y="534.52" font-size="8.6" font-weight="bold" text-anchor="start" fill="#111">3D-LR1</text>
<rect x="444.00" y="541.90" width="57.20" height="19.00" fill="#E2E6EB" rx="2"/>
<text x="0.00" y="0.00" font-size="8.1" font-weight="bold" stroke="#111" stroke-width="0.3" text-anchor="middle" transform="translate(472.60 554.57) scale(0.9 1)" fill="#111">0.16</text>
<rect x="502.90" y="541.90" width="57.20" height="19.00" fill="#EBEBEB" rx="2"/>
<text x="0.00" y="0.00" font-size="8.1" font-weight="bold" stroke="#111" stroke-width="0.3" text-anchor="middle" transform="translate(531.50 554.57) scale(0.9 1)" fill="#111">0.07</text>
<text x="563.50" y="554.72" font-size="8.6" font-weight="bold" text-anchor="start" fill="#111">3D-LR2</text>
<rect x="444.00" y="562.10" width="57.20" height="19.00" fill="#4572B4" rx="2"/>
<text x="0.00" y="0.00" font-size="8.1" font-weight="bold" stroke="#111" stroke-width="0.3" text-anchor="middle" transform="translate(472.60 574.77) scale(0.9 1)" fill="#111">1.78</text>
<rect x="502.90" y="562.10" width="57.20" height="19.00" fill="#C3D8E8" rx="2"/>
<text x="0.00" y="0.00" font-size="8.1" font-weight="bold" stroke="#111" stroke-width="0.3" text-anchor="middle" transform="translate(531.50 574.77) scale(0.9 1)" fill="#111">0.86</text>
<text x="563.50" y="574.92" font-size="8.6" font-weight="bold" text-anchor="start" fill="#111">12D-C0</text>
<rect x="444.00" y="582.30" width="57.20" height="19.00" fill="#B8D1E6" rx="2"/>
<text x="0.00" y="0.00" font-size="8.1" font-weight="bold" stroke="#111" stroke-width="0.3" text-anchor="middle" transform="translate(472.60 594.97) scale(0.9 1)" fill="#111">0.84</text>
<rect x="502.90" y="582.30" width="57.20" height="19.00" fill="#D6E0E9" rx="2"/>
<text x="0.00" y="0.00" font-size="8.1" font-weight="bold" stroke="#111" stroke-width="0.3" text-anchor="middle" transform="translate(531.50 594.97) scale(0.9 1)" fill="#111">0.48</text>
<text x="563.50" y="595.12" font-size="8.6" font-weight="bold" text-anchor="start" fill="#111">12D-C1</text>
<rect x="444.00" y="602.50" width="57.20" height="19.00" fill="#EDEDED" rx="2"/>
<text x="0.00" y="0.00" font-size="8.1" font-weight="bold" stroke="#111" stroke-width="0.3" text-anchor="middle" transform="translate(472.60 615.17) scale(0.9 1)" fill="#111">0.01</text>
<rect x="502.90" y="602.50" width="57.20" height="19.00" fill="#EBEBEB" rx="2"/>
<text x="0.00" y="0.00" font-size="8.1" font-weight="bold" stroke="#111" stroke-width="0.3" text-anchor="middle" transform="translate(531.50 615.17) scale(0.9 1)" fill="#111">0.06</text>
<text x="563.50" y="615.32" font-size="8.6" font-weight="bold" text-anchor="start" fill="#111">12D-LR1</text>
<rect x="444.00" y="622.70" width="57.20" height="19.00" fill="#D4DFE9" rx="2"/>
<text x="0.00" y="0.00" font-size="8.1" font-weight="bold" stroke="#111" stroke-width="0.3" text-anchor="middle" transform="translate(472.60 635.37) scale(0.9 1)" fill="#111">0.36</text>
<rect x="502.90" y="622.70" width="57.20" height="19.00" fill="#E7E9EB" rx="2"/>
<text x="0.00" y="0.00" font-size="8.1" font-weight="bold" stroke="#111" stroke-width="0.3" text-anchor="middle" transform="translate(531.50 635.37) scale(0.9 1)" fill="#111">0.11</text>
<text x="563.50" y="635.52" font-size="8.6" font-weight="bold" text-anchor="start" fill="#111">12D-LR2</text>
<rect x="623.3" y="460.7" width="11.900000000000091" height="91.09999999999997" fill="url(#cb)"/>
<line x1="635.60" y1="460.70" x2="635.60" y2="551.80" stroke="#333" stroke-width="0.9"/>
<line x1="635.60" y1="551.80" x2="637.40" y2="551.80" stroke="#333" stroke-width="0.9"/>
<text x="638.00" y="555.35" font-size="7.2" font-weight="bold" text-anchor="start" fill="#111">0.00</text>
<line x1="635.60" y1="533.58" x2="637.40" y2="533.58" stroke="#333" stroke-width="0.9"/>
<text x="638.00" y="537.13" font-size="7.2" font-weight="bold" text-anchor="start" fill="#111">0.20</text>
<line x1="635.60" y1="515.36" x2="637.40" y2="515.36" stroke="#333" stroke-width="0.9"/>
<text x="638.00" y="518.91" font-size="7.2" font-weight="bold" text-anchor="start" fill="#111">0.40</text>
<line x1="635.60" y1="497.14" x2="637.40" y2="497.14" stroke="#333" stroke-width="0.9"/>
<text x="638.00" y="500.69" font-size="7.2" font-weight="bold" text-anchor="start" fill="#111">0.60</text>
<line x1="635.60" y1="478.92" x2="637.40" y2="478.92" stroke="#333" stroke-width="0.9"/>
<text x="638.00" y="482.47" font-size="7.2" font-weight="bold" text-anchor="start" fill="#111">0.80</text>
<line x1="635.60" y1="460.70" x2="637.40" y2="460.70" stroke="#333" stroke-width="0.9"/>
<text x="638.00" y="464.25" font-size="7.2" font-weight="bold" text-anchor="start" fill="#111">1.00</text>
<text x="477.50" y="650.00" font-size="8.5" font-weight="bold" font-style="italic" text-anchor="end" transform="rotate(-45 477.50 650.00)" fill="#111">Pseudocitrobacter</text>
<text x="536.00" y="650.00" font-size="8.5" font-weight="bold" font-style="italic" text-anchor="end" transform="rotate(-45 536.00 650.00)" fill="#111">Klebsiella</text>
<text x="1.50" y="782.60" font-size="16" font-weight="bold" text-anchor="start" fill="#111">c</text>
<rect x="47.20" y="1050.17" width="15.30" height="12.13" fill="#8AC25B" stroke="#2a2a2a" stroke-width="0.7"/>
<rect x="47.20" y="1046.12" width="15.30" height="4.04" fill="#EDAF62" stroke="#2a2a2a" stroke-width="0.7"/>
<rect x="47.20" y="1019.07" width="15.30" height="27.05" fill="#F07870" stroke="#2a2a2a" stroke-width="0.7"/>
<rect x="47.20" y="991.26" width="15.30" height="27.81" fill="#E6D8CC" stroke="#2a2a2a" stroke-width="0.7"/>
<rect x="47.20" y="941.21" width="15.30" height="50.05" fill="#C69A90" stroke="#2a2a2a" stroke-width="0.7"/>
<rect x="47.20" y="900.00" width="15.30" height="41.21" fill="#D6C6E5" stroke="#2a2a2a" stroke-width="0.7"/>
<rect x="47.20" y="889.13" width="15.30" height="10.87" fill="#8A5AB0" stroke="#2a2a2a" stroke-width="0.7"/>
<rect x="47.20" y="875.73" width="15.30" height="13.40" fill="#6E4A80" stroke="#2a2a2a" stroke-width="0.7"/>
<rect x="47.20" y="872.45" width="15.30" height="3.29" fill="#7D5A4E" stroke="#2a2a2a" stroke-width="0.7"/>
<rect x="47.20" y="869.16" width="15.30" height="3.29" fill="#D3B57F" stroke="#2a2a2a" stroke-width="0.7"/>
<rect x="47.20" y="863.35" width="15.30" height="5.81" fill="#D4AAB5" stroke="#2a2a2a" stroke-width="0.7"/>
<rect x="47.20" y="860.57" width="15.30" height="2.78" fill="#C5C5CF" stroke="#2a2a2a" stroke-width="0.7"/>
<rect x="47.20" y="857.28" width="15.30" height="3.29" fill="#D890C3" stroke="#2a2a2a" stroke-width="0.7"/>
<rect x="47.20" y="855.00" width="15.30" height="2.28" fill="#6a2838" stroke="#2a2a2a" stroke-width="0.7"/>
<rect x="47.20" y="853.99" width="15.30" height="1.01" fill="#D2AE55" stroke="#2a2a2a" stroke-width="0.7"/>
<rect x="47.20" y="850.71" width="15.30" height="3.29" fill="#C81C18" stroke="#2a2a2a" stroke-width="0.7"/>
<rect x="47.20" y="847.93" width="15.30" height="2.78" fill="#151218" stroke="#2a2a2a" stroke-width="0.7"/>
<rect x="47.20" y="809.50" width="15.30" height="38.43" fill="#D5E3BA" stroke="#2a2a2a" stroke-width="0.7"/>
<rect x="66.76" y="1048.40" width="15.30" height="13.90" fill="#8AC25B" stroke="#2a2a2a" stroke-width="0.7"/>
<rect x="66.76" y="1042.20" width="15.30" height="6.19" fill="#EDAF62" stroke="#2a2a2a" stroke-width="0.7"/>
<rect x="66.76" y="943.48" width="15.30" height="98.72" fill="#F07870" stroke="#2a2a2a" stroke-width="0.7"/>
<rect x="66.76" y="916.94" width="15.30" height="26.54" fill="#E6D8CC" stroke="#2a2a2a" stroke-width="0.7"/>
<rect x="66.76" y="908.34" width="15.30" height="8.60" fill="#C69A90" stroke="#2a2a2a" stroke-width="0.7"/>
<rect x="66.76" y="902.28" width="15.30" height="6.07" fill="#D6C6E5" stroke="#2a2a2a" stroke-width="0.7"/>
<rect x="66.76" y="884.33" width="15.30" height="17.95" fill="#8A5AB0" stroke="#2a2a2a" stroke-width="0.7"/>
<rect x="66.76" y="861.32" width="15.30" height="23.00" fill="#6E4A80" stroke="#2a2a2a" stroke-width="0.7"/>
<rect x="66.76" y="859.05" width="15.30" height="2.28" fill="#7D5A4E" stroke="#2a2a2a" stroke-width="0.7"/>
<rect x="66.76" y="857.28" width="15.30" height="1.77" fill="#D3B57F" stroke="#2a2a2a" stroke-width="0.7"/>
<rect x="66.76" y="855.51" width="15.30" height="1.77" fill="#E0B0C0" stroke="#2a2a2a" stroke-width="0.7"/>
<rect x="66.76" y="851.72" width="15.30" height="3.79" fill="#C5C5CF" stroke="#2a2a2a" stroke-width="0.7"/>
<rect x="66.76" y="846.91" width="15.30" height="4.80" fill="#D890C3" stroke="#2a2a2a" stroke-width="0.7"/>
<rect x="66.76" y="844.39" width="15.30" height="2.53" fill="#4a4a20" stroke="#2a2a2a" stroke-width="0.7"/>
<rect x="66.76" y="841.86" width="15.30" height="2.53" fill="#1e0c38" stroke="#2a2a2a" stroke-width="0.7"/>
<rect x="66.76" y="809.50" width="15.30" height="32.36" fill="#D5E3BA" stroke="#2a2a2a" stroke-width="0.7"/>
<rect x="86.32" y="891.91" width="15.30" height="170.39" fill="#85B5D5" stroke="#2a2a2a" stroke-width="0.7"/>
<rect x="86.32" y="888.12" width="15.30" height="3.79" fill="#8AC25B" stroke="#2a2a2a" stroke-width="0.7"/>
<rect x="86.32" y="885.59" width="15.30" height="2.53" fill="#B08850" stroke="#2a2a2a" stroke-width="0.7"/>
<rect x="86.32" y="859.55" width="15.30" height="26.04" fill="#F07870" stroke="#2a2a2a" stroke-width="0.7"/>
<rect x="86.32" y="854.25" width="15.30" height="5.31" fill="#E6D8CC" stroke="#2a2a2a" stroke-width="0.7"/>
<rect x="86.32" y="849.70" width="15.30" height="4.55" fill="#C69A90" stroke="#2a2a2a" stroke-width="0.7"/>
<rect x="86.32" y="847.67" width="15.30" height="2.02" fill="#D6C6E5" stroke="#2a2a2a" stroke-width="0.7"/>
<rect x="86.32" y="845.65" width="15.30" height="2.02" fill="#6E4A80" stroke="#2a2a2a" stroke-width="0.7"/>
<rect x="86.32" y="841.86" width="15.30" height="3.79" fill="#9A60C0" stroke="#2a2a2a" stroke-width="0.7"/>
<rect x="86.32" y="836.80" width="15.30" height="5.06" fill="#6E4A80" stroke="#2a2a2a" stroke-width="0.7"/>
<rect x="86.32" y="833.77" width="15.30" height="3.03" fill="#4a3a30" stroke="#2a2a2a" stroke-width="0.7"/>
<rect x="86.32" y="832.00" width="15.30" height="1.77" fill="#9A6A80" stroke="#2a2a2a" stroke-width="0.7"/>
<rect x="86.32" y="830.23" width="15.30" height="1.77" fill="#151218" stroke="#2a2a2a" stroke-width="0.7"/>
<rect x="86.32" y="828.46" width="15.30" height="1.77" fill="#F2F5A0" stroke="#2a2a2a" stroke-width="0.7"/>
<rect x="86.32" y="826.18" width="15.30" height="2.28" fill="#555045" stroke="#2a2a2a" stroke-width="0.7"/>
<rect x="86.32" y="809.50" width="15.30" height="16.68" fill="#D5E3BA" stroke="#2a2a2a" stroke-width="0.7"/>
<rect x="105.88" y="840.59" width="15.30" height="221.71" fill="#85B5D5" stroke="#2a2a2a" stroke-width="0.7"/>
<rect x="105.88" y="837.06" width="15.30" height="3.54" fill="#8AC25B" stroke="#2a2a2a" stroke-width="0.7"/>
<rect x="105.88" y="831.75" width="15.30" height="5.31" fill="#F07870" stroke="#2a2a2a" stroke-width="0.7"/>
<rect x="105.88" y="826.44" width="15.30" height="5.31" fill="#E6D8CC" stroke="#2a2a2a" stroke-width="0.7"/>
<rect x="105.88" y="823.40" width="15.30" height="3.03" fill="#D4A8A0" stroke="#2a2a2a" stroke-width="0.7"/>
<rect x="105.88" y="821.38" width="15.30" height="2.02" fill="#D6C6E5" stroke="#2a2a2a" stroke-width="0.7"/>
<rect x="105.88" y="819.36" width="15.30" height="2.02" fill="#8A5AB0" stroke="#2a2a2a" stroke-width="0.7"/>
<rect x="105.88" y="817.34" width="15.30" height="2.02" fill="#6E4A80" stroke="#2a2a2a" stroke-width="0.7"/>
<rect x="105.88" y="815.31" width="15.30" height="2.02" fill="#7D5A4E" stroke="#2a2a2a" stroke-width="0.7"/>
<rect x="105.88" y="813.29" width="15.30" height="2.02" fill="#151218" stroke="#2a2a2a" stroke-width="0.7"/>
<rect x="105.88" y="812.03" width="15.30" height="1.26" fill="#4a3a2a" stroke="#2a2a2a" stroke-width="0.7"/>
<rect x="105.88" y="809.50" width="15.30" height="2.53" fill="#D5E3BA" stroke="#2a2a2a" stroke-width="0.7"/>
<rect x="125.44" y="958.40" width="15.30" height="103.90" fill="#8AC25B" stroke="#2a2a2a" stroke-width="0.7"/>
<rect x="125.44" y="866.63" width="15.30" height="91.77" fill="#EDAF62" stroke="#2a2a2a" stroke-width="0.7"/>
<rect x="125.44" y="842.11" width="15.30" height="24.52" fill="#F07870" stroke="#2a2a2a" stroke-width="0.7"/>
<rect x="125.44" y="832.00" width="15.30" height="10.11" fill="#E6D8CC" stroke="#2a2a2a" stroke-width="0.7"/>
<rect x="125.44" y="829.98" width="15.30" height="2.02" fill="#3A2A60" stroke="#2a2a2a" stroke-width="0.7"/>
<rect x="125.44" y="819.61" width="15.30" height="10.36" fill="#7D5A4E" stroke="#2a2a2a" stroke-width="0.7"/>
<rect x="125.44" y="818.35" width="15.30" height="1.26" fill="#5a4038" stroke="#2a2a2a" stroke-width="0.7"/>
<rect x="125.44" y="816.07" width="15.30" height="2.28" fill="#D3B57F" stroke="#2a2a2a" stroke-width="0.7"/>
<rect x="125.44" y="813.04" width="15.30" height="3.03" fill="#7A6A78" stroke="#2a2a2a" stroke-width="0.7"/>
<rect x="125.44" y="812.03" width="15.30" height="1.01" fill="#6a1a30" stroke="#2a2a2a" stroke-width="0.7"/>
<rect x="125.44" y="810.76" width="15.30" height="1.26" fill="#151218" stroke="#2a2a2a" stroke-width="0.7"/>
<rect x="125.44" y="809.50" width="15.30" height="1.26" fill="#8A9A80" stroke="#2a2a2a" stroke-width="0.7"/>
<rect x="145.00" y="949.55" width="15.30" height="112.75" fill="#8AC25B" stroke="#2a2a2a" stroke-width="0.7"/>
<rect x="145.00" y="897.98" width="15.30" height="51.57" fill="#EDAF62" stroke="#2a2a2a" stroke-width="0.7"/>
<rect x="145.00" y="829.22" width="15.30" height="68.76" fill="#F07870" stroke="#2a2a2a" stroke-width="0.7"/>
<rect x="145.00" y="825.68" width="15.30" height="3.54" fill="#E6D8CC" stroke="#2a2a2a" stroke-width="0.7"/>
<rect x="145.00" y="820.12" width="15.30" height="5.56" fill="#8A5AB0" stroke="#2a2a2a" stroke-width="0.7"/>
<rect x="145.00" y="816.33" width="15.30" height="3.79" fill="#7D5A4E" stroke="#2a2a2a" stroke-width="0.7"/>
<rect x="145.00" y="814.81" width="15.30" height="1.52" fill="#D3B57F" stroke="#2a2a2a" stroke-width="0.7"/>
<rect x="145.00" y="812.53" width="15.30" height="2.28" fill="#8a7a90" stroke="#2a2a2a" stroke-width="0.7"/>
<rect x="145.00" y="810.76" width="15.30" height="1.77" fill="#151218" stroke="#2a2a2a" stroke-width="0.7"/>
<rect x="145.00" y="809.50" width="15.30" height="1.26" fill="#D5E3BA" stroke="#2a2a2a" stroke-width="0.7"/>
<rect x="164.56" y="975.34" width="15.30" height="86.96" fill="#85B5D5" stroke="#2a2a2a" stroke-width="0.7"/>
<rect x="164.56" y="933.62" width="15.30" height="41.71" fill="#8AC25B" stroke="#2a2a2a" stroke-width="0.7"/>
<rect x="164.56" y="881.30" width="15.30" height="52.33" fill="#EDAF62" stroke="#2a2a2a" stroke-width="0.7"/>
<rect x="164.56" y="820.62" width="15.30" height="60.67" fill="#F07870" stroke="#2a2a2a" stroke-width="0.7"/>
<rect x="164.56" y="819.11" width="15.30" height="1.52" fill="#3a2030" stroke="#2a2a2a" stroke-width="0.7"/>
<rect x="164.56" y="815.82" width="15.30" height="3.29" fill="#8A5AB0" stroke="#2a2a2a" stroke-width="0.7"/>
<rect x="164.56" y="815.31" width="15.30" height="0.51" fill="#151218" stroke="#2a2a2a" stroke-width="0.7"/>
<rect x="164.56" y="812.03" width="15.30" height="3.29" fill="#D3B57F" stroke="#2a2a2a" stroke-width="0.7"/>
<rect x="164.56" y="811.02" width="15.30" height="1.01" fill="#151218" stroke="#2a2a2a" stroke-width="0.7"/>
<rect x="164.56" y="809.50" width="15.30" height="1.52" fill="#B8C8A8" stroke="#2a2a2a" stroke-width="0.7"/>
<rect x="184.12" y="856.52" width="15.30" height="205.78" fill="#85B5D5" stroke="#2a2a2a" stroke-width="0.7"/>
<rect x="184.12" y="834.27" width="15.30" height="22.25" fill="#8AC25B" stroke="#2a2a2a" stroke-width="0.7"/>
<rect x="184.12" y="830.74" width="15.30" height="3.54" fill="#EDAF62" stroke="#2a2a2a" stroke-width="0.7"/>
<rect x="184.12" y="816.07" width="15.30" height="14.66" fill="#F07870" stroke="#2a2a2a" stroke-width="0.7"/>
<rect x="184.12" y="813.54" width="15.30" height="2.53" fill="#F0EEE0" stroke="#2a2a2a" stroke-width="0.7"/>
<rect x="184.12" y="809.50" width="15.30" height="4.04" fill="#1A1410" stroke="#2a2a2a" stroke-width="0.7"/>
<rect x="203.68" y="971.04" width="15.30" height="91.26" fill="#8AC25B" stroke="#2a2a2a" stroke-width="0.7"/>
<rect x="203.68" y="868.15" width="15.30" height="102.89" fill="#EDAF62" stroke="#2a2a2a" stroke-width="0.7"/>
<rect x="203.68" y="838.32" width="15.30" height="29.83" fill="#F07870" stroke="#2a2a2a" stroke-width="0.7"/>
<rect x="203.68" y="830.99" width="15.30" height="7.33" fill="#E6D8CC" stroke="#2a2a2a" stroke-width="0.7"/>
<rect x="203.68" y="830.23" width="15.30" height="0.76" fill="#E0D8E8" stroke="#2a2a2a" stroke-width="0.7"/>
<rect x="203.68" y="827.20" width="15.30" height="3.03" fill="#5A3A70" stroke="#2a2a2a" stroke-width="0.7"/>
<rect x="203.68" y="824.92" width="15.30" height="2.28" fill="#6A4A3A" stroke="#2a2a2a" stroke-width="0.7"/>
<rect x="203.68" y="820.62" width="15.30" height="4.30" fill="#D3B57F" stroke="#2a2a2a" stroke-width="0.7"/>
<rect x="203.68" y="818.85" width="15.30" height="1.77" fill="#D8A0C0" stroke="#2a2a2a" stroke-width="0.7"/>
<rect x="203.68" y="817.59" width="15.30" height="1.26" fill="#9a9aa0" stroke="#2a2a2a" stroke-width="0.7"/>
<rect x="203.68" y="814.30" width="15.30" height="3.29" fill="#C4437F" stroke="#2a2a2a" stroke-width="0.7"/>
<rect x="203.68" y="811.78" width="15.30" height="2.53" fill="#203020" stroke="#2a2a2a" stroke-width="0.7"/>
<rect x="203.68" y="810.76" width="15.30" height="1.01" fill="#151218" stroke="#2a2a2a" stroke-width="0.7"/>
<rect x="203.68" y="809.50" width="15.30" height="1.26" fill="#C8DCB0" stroke="#2a2a2a" stroke-width="0.7"/>
<rect x="223.24" y="960.42" width="15.30" height="101.88" fill="#8AC25B" stroke="#2a2a2a" stroke-width="0.7"/>
<rect x="223.24" y="854.75" width="15.30" height="105.67" fill="#EDAF62" stroke="#2a2a2a" stroke-width="0.7"/>
<rect x="223.24" y="832.50" width="15.30" height="22.25" fill="#F07870" stroke="#2a2a2a" stroke-width="0.7"/>
<rect x="223.24" y="825.93" width="15.30" height="6.57" fill="#E6D8CC" stroke="#2a2a2a" stroke-width="0.7"/>
<rect x="223.24" y="822.90" width="15.30" height="3.03" fill="#2A1A40" stroke="#2a2a2a" stroke-width="0.7"/>
<rect x="223.24" y="821.13" width="15.30" height="1.77" fill="#6a4a3a" stroke="#2a2a2a" stroke-width="0.7"/>
<rect x="223.24" y="819.61" width="15.30" height="1.52" fill="#D3B57F" stroke="#2a2a2a" stroke-width="0.7"/>
<rect x="223.24" y="817.34" width="15.30" height="2.28" fill="#8a8a8a" stroke="#2a2a2a" stroke-width="0.7"/>
<rect x="223.24" y="815.31" width="15.30" height="2.02" fill="#C4437F" stroke="#2a2a2a" stroke-width="0.7"/>
<rect x="223.24" y="812.03" width="15.30" height="3.29" fill="#2a3a2a" stroke="#2a2a2a" stroke-width="0.7"/>
<rect x="223.24" y="809.50" width="15.30" height="2.53" fill="#D8ECC0" stroke="#2a2a2a" stroke-width="0.7"/>
<rect x="242.80" y="890.14" width="15.30" height="172.16" fill="#85B5D5" stroke="#2a2a2a" stroke-width="0.7"/>
<rect x="242.80" y="872.95" width="15.30" height="17.19" fill="#8AC25B" stroke="#2a2a2a" stroke-width="0.7"/>
<rect x="242.80" y="844.39" width="15.30" height="28.57" fill="#EDAF62" stroke="#2a2a2a" stroke-width="0.7"/>
<rect x="242.80" y="817.84" width="15.30" height="26.54" fill="#F07870" stroke="#2a2a2a" stroke-width="0.7"/>
<rect x="242.80" y="816.58" width="15.30" height="1.26" fill="#3a2030" stroke="#2a2a2a" stroke-width="0.7"/>
<rect x="242.80" y="814.81" width="15.30" height="1.77" fill="#8A5AB0" stroke="#2a2a2a" stroke-width="0.7"/>
<rect x="242.80" y="812.03" width="15.30" height="2.78" fill="#151218" stroke="#2a2a2a" stroke-width="0.7"/>
<rect x="242.80" y="809.50" width="15.30" height="2.53" fill="#D8ECC0" stroke="#2a2a2a" stroke-width="0.7"/>
<rect x="262.36" y="871.44" width="15.30" height="190.86" fill="#85B5D5" stroke="#2a2a2a" stroke-width="0.7"/>
<rect x="262.36" y="851.21" width="15.30" height="20.22" fill="#8AC25B" stroke="#2a2a2a" stroke-width="0.7"/>
<rect x="262.36" y="843.38" width="15.30" height="7.84" fill="#EDAF62" stroke="#2a2a2a" stroke-width="0.7"/>
<rect x="262.36" y="818.35" width="15.30" height="25.03" fill="#F07870" stroke="#2a2a2a" stroke-width="0.7"/>
<rect x="262.36" y="816.07" width="15.30" height="2.28" fill="#F0E8DC" stroke="#2a2a2a" stroke-width="0.7"/>
<rect x="262.36" y="814.56" width="15.30" height="1.52" fill="#9a90a8" stroke="#2a2a2a" stroke-width="0.7"/>
<rect x="262.36" y="812.03" width="15.30" height="2.53" fill="#6A4A90" stroke="#2a2a2a" stroke-width="0.7"/>
<rect x="262.36" y="810.76" width="15.30" height="1.26" fill="#3A2A20" stroke="#2a2a2a" stroke-width="0.7"/>
<rect x="262.36" y="809.50" width="15.30" height="1.26" fill="#151218" stroke="#2a2a2a" stroke-width="0.7"/>
<line x1="45.50" y1="804.40" x2="45.50" y2="1062.30" stroke="#2a2a2a" stroke-width="1.1"/>
<line x1="45.00" y1="804.40" x2="280.50" y2="804.40" stroke="#2a2a2a" stroke-width="1.3"/>
<line x1="280.50" y1="804.40" x2="280.50" y2="1062.30" stroke="#7a7a7a" stroke-width="1.8"/>
<line x1="45.50" y1="1062.30" x2="280.50" y2="1062.30" stroke="#2a2a2a" stroke-width="1.1"/>
<line x1="40.30" y1="1062.30" x2="45.50" y2="1062.30" stroke="#2a2a2a" stroke-width="1"/>
<text x="36.10" y="1065.50" font-size="11" font-weight="bold" text-anchor="end" fill="#111">0</text>
<line x1="42.50" y1="1037.02" x2="45.50" y2="1037.02" stroke="#2a2a2a" stroke-width="1"/>
<line x1="40.30" y1="1011.74" x2="45.50" y2="1011.74" stroke="#2a2a2a" stroke-width="1"/>
<text x="36.10" y="1014.94" font-size="11" font-weight="bold" text-anchor="end" fill="#111">20</text>
<line x1="42.50" y1="986.46" x2="45.50" y2="986.46" stroke="#2a2a2a" stroke-width="1"/>
<line x1="40.30" y1="961.18" x2="45.50" y2="961.18" stroke="#2a2a2a" stroke-width="1"/>
<text x="36.10" y="964.38" font-size="11" font-weight="bold" text-anchor="end" fill="#111">40</text>
<line x1="42.50" y1="935.90" x2="45.50" y2="935.90" stroke="#2a2a2a" stroke-width="1"/>
<line x1="40.30" y1="910.62" x2="45.50" y2="910.62" stroke="#2a2a2a" stroke-width="1"/>
<text x="36.10" y="913.82" font-size="11" font-weight="bold" text-anchor="end" fill="#111">60</text>
<line x1="42.50" y1="885.34" x2="45.50" y2="885.34" stroke="#2a2a2a" stroke-width="1"/>
<line x1="40.30" y1="860.06" x2="45.50" y2="860.06" stroke="#2a2a2a" stroke-width="1"/>
<text x="36.10" y="863.26" font-size="11" font-weight="bold" text-anchor="end" fill="#111">80</text>
<line x1="42.50" y1="834.78" x2="45.50" y2="834.78" stroke="#2a2a2a" stroke-width="1"/>
<line x1="40.30" y1="809.50" x2="45.50" y2="809.50" stroke="#2a2a2a" stroke-width="1"/>
<text x="36.10" y="812.70" font-size="11" font-weight="bold" text-anchor="end" fill="#111">100</text>
<line x1="54.85" y1="1062.30" x2="54.85" y2="1067.50" stroke="#2a2a2a" stroke-width="1"/>
<text x="63.85" y="1075.80" font-size="11" font-weight="bold" text-anchor="end" transform="rotate(-45 63.85 1075.80)" fill="#111">0D-C0</text>
<line x1="74.41" y1="1062.30" x2="74.41" y2="1067.50" stroke="#2a2a2a" stroke-width="1"/>
<text x="83.41" y="1075.80" font-size="11" font-weight="bold" text-anchor="end" transform="rotate(-45 83.41 1075.80)" fill="#111">0D-C1</text>
<line x1="93.97" y1="1062.30" x2="93.97" y2="1067.50" stroke="#2a2a2a" stroke-width="1"/>
<text x="102.97" y="1075.80" font-size="11" font-weight="bold" text-anchor="end" transform="rotate(-45 102.97 1075.80)" fill="#111">0D-LR1</text>
<line x1="113.53" y1="1062.30" x2="113.53" y2="1067.50" stroke="#2a2a2a" stroke-width="1"/>
<text x="122.53" y="1075.80" font-size="11" font-weight="bold" text-anchor="end" transform="rotate(-45 122.53 1075.80)" fill="#111">0D-LR2</text>
<line x1="133.09" y1="1062.30" x2="133.09" y2="1067.50" stroke="#2a2a2a" stroke-width="1"/>
<text x="142.09" y="1075.80" font-size="11" font-weight="bold" text-anchor="end" transform="rotate(-45 142.09 1075.80)" fill="#111">3D-C0</text>
<line x1="152.65" y1="1062.30" x2="152.65" y2="1067.50" stroke="#2a2a2a" stroke-width="1"/>
<text x="161.65" y="1075.80" font-size="11" font-weight="bold" text-anchor="end" transform="rotate(-45 161.65 1075.80)" fill="#111">3D-C1</text>
<line x1="172.21" y1="1062.30" x2="172.21" y2="1067.50" stroke="#2a2a2a" stroke-width="1"/>
<text x="181.21" y="1075.80" font-size="11" font-weight="bold" text-anchor="end" transform="rotate(-45 181.21 1075.80)" fill="#111">3D-LR1</text>
<line x1="191.77" y1="1062.30" x2="191.77" y2="1067.50" stroke="#2a2a2a" stroke-width="1"/>
<text x="200.77" y="1075.80" font-size="11" font-weight="bold" text-anchor="end" transform="rotate(-45 200.77 1075.80)" fill="#111">3D-LR2</text>
<line x1="211.33" y1="1062.30" x2="211.33" y2="1067.50" stroke="#2a2a2a" stroke-width="1"/>
<text x="220.33" y="1075.80" font-size="11" font-weight="bold" text-anchor="end" transform="rotate(-45 220.33 1075.80)" fill="#111">12D-C0</text>
<line x1="230.89" y1="1062.30" x2="230.89" y2="1067.50" stroke="#2a2a2a" stroke-width="1"/>
<text x="239.89" y="1075.80" font-size="11" font-weight="bold" text-anchor="end" transform="rotate(-45 239.89 1075.80)" fill="#111">12D-C1</text>
<line x1="250.45" y1="1062.30" x2="250.45" y2="1067.50" stroke="#2a2a2a" stroke-width="1"/>
<text x="259.45" y="1075.80" font-size="11" font-weight="bold" text-anchor="end" transform="rotate(-45 259.45 1075.80)" fill="#111">12D-LR1</text>
<line x1="270.01" y1="1062.30" x2="270.01" y2="1067.50" stroke="#2a2a2a" stroke-width="1"/>
<text x="279.01" y="1075.80" font-size="11" font-weight="bold" text-anchor="end" transform="rotate(-45 279.01 1075.80)" fill="#111">12D-LR2</text>
<text x="14.80" y="932.80" font-size="13.2" font-weight="bold" text-anchor="middle" transform="rotate(-90 14.8 932.8)" fill="#111">Relative abundance (%)</text>
<rect x="20.30" y="784.90" width="268.50" height="59.50" fill="none" stroke="#222" stroke-width="1.1"/>
<text x="185.00" y="797.50" font-size="14.6" font-weight="bold" text-anchor="middle" fill="#111">Species</text>
<rect x="289.60" y="811.50" width="15.90" height="7.80" fill="#C8EBD0" stroke="#464646" stroke-width="0.9"/>
<text x="308.00" y="818.30" font-size="7.35" font-weight="bold" text-anchor="start" fill="#111">Unknown</text>
<rect x="289.60" y="820.63" width="15.90" height="7.80" fill="#D5E3BA" stroke="#464646" stroke-width="0.9"/>
<text x="308.00" y="827.43" font-size="7.35" font-weight="bold" text-anchor="start" fill="#111">Others</text>
<rect x="289.60" y="829.76" width="15.90" height="7.80" fill="#7DCEC0" stroke="#464646" stroke-width="0.9"/>
<text x="308.00" y="836.56" font-size="7.35" font-weight="bold" font-style="italic" text-anchor="start" fill="#111">Pluralibacter gergoviae</text>
<rect x="289.60" y="838.89" width="15.90" height="7.80" fill="#6A3AB0" stroke="#464646" stroke-width="0.9"/>
<text x="308.00" y="845.69" font-size="7.35" font-weight="bold" font-style="italic" text-anchor="start" fill="#111">Pseudomonas psychrophila</text>
<rect x="289.60" y="848.02" width="15.90" height="7.80" fill="#3F7FC0" stroke="#464646" stroke-width="0.9"/>
<text x="308.00" y="854.82" font-size="7.35" font-weight="bold" font-style="italic" text-anchor="start" fill="#111">Lactococcus piscium</text>
<rect x="289.60" y="857.15" width="15.90" height="7.80" fill="#F0BDD2" stroke="#464646" stroke-width="0.9"/>
<text x="308.00" y="863.95" font-size="7.35" font-weight="bold" font-style="italic" text-anchor="start" fill="#111">Enterococcus hermanniensis</text>
<rect x="289.60" y="866.28" width="15.90" height="7.80" fill="#3D3D3D" stroke="#464646" stroke-width="0.9"/>
<text x="308.00" y="873.08" font-size="7.35" font-weight="bold" font-style="italic" text-anchor="start" fill="#111">Levilactobacillus brevis</text>
<rect x="289.60" y="875.41" width="15.90" height="7.80" fill="#F2F5A0" stroke="#464646" stroke-width="0.9"/>
<text x="308.00" y="882.21" font-size="7.35" font-weight="bold" font-style="italic" text-anchor="start" fill="#111">Streptococcus mitis</text>
<rect x="289.60" y="884.54" width="15.90" height="7.80" fill="#CFEED6" stroke="#464646" stroke-width="0.9"/>
<text x="308.00" y="891.34" font-size="7.35" font-weight="bold" font-style="italic" text-anchor="start" fill="#111">Lactiplantibacillus paraplantarum</text>
<rect x="289.60" y="893.67" width="15.90" height="7.80" fill="#C81C18" stroke="#464646" stroke-width="0.9"/>
<text x="308.00" y="900.47" font-size="7.35" font-weight="bold" font-style="italic" text-anchor="start" fill="#111">Pseudomonas oryzihabitans</text>
<rect x="289.60" y="902.80" width="15.90" height="7.80" fill="#CDE85A" stroke="#464646" stroke-width="0.9"/>
<text x="308.00" y="909.60" font-size="7.35" font-weight="bold" font-style="italic" text-anchor="start" fill="#111">Escherichia coli</text>
<rect x="289.60" y="911.93" width="15.90" height="7.80" fill="#D2AE55" stroke="#464646" stroke-width="0.9"/>
<text x="308.00" y="918.73" font-size="7.35" font-weight="bold" font-style="italic" text-anchor="start" fill="#111">Acidovorax wautersii</text>
<rect x="289.60" y="921.06" width="15.90" height="7.80" fill="#C4437F" stroke="#464646" stroke-width="0.9"/>
<text x="308.00" y="927.86" font-size="7.35" font-weight="bold" font-style="italic" text-anchor="start" fill="#111">Hafnia alvei</text>
<rect x="289.60" y="930.19" width="15.90" height="7.80" fill="#D890C3" stroke="#464646" stroke-width="0.9"/>
<text x="308.00" y="936.99" font-size="7.35" font-weight="bold" font-style="italic" text-anchor="start" fill="#111">Pantoea agglomerans</text>
<rect x="289.60" y="939.32" width="15.90" height="7.80" fill="#C5C5CF" stroke="#464646" stroke-width="0.9"/>
<text x="308.00" y="946.12" font-size="7.35" font-weight="bold" font-style="italic" text-anchor="start" fill="#111">Vagococcus fessus</text>
<rect x="289.60" y="948.45" width="15.90" height="7.80" fill="#D4AAB5" stroke="#464646" stroke-width="0.9"/>
<text x="308.00" y="955.25" font-size="7.35" font-weight="bold" font-style="italic" text-anchor="start" fill="#111">Klebsiella oxytoca</text>
<rect x="289.60" y="957.58" width="15.90" height="7.80" fill="#D3B57F" stroke="#464646" stroke-width="0.9"/>
<text x="308.00" y="964.38" font-size="7.35" font-weight="bold" font-style="italic" text-anchor="start" fill="#111">Pseudocitrobacter faecalis</text>
<rect x="289.60" y="966.71" width="15.90" height="7.80" fill="#7D5A4E" stroke="#464646" stroke-width="0.9"/>
<text x="308.00" y="973.51" font-size="7.35" font-weight="bold" font-style="italic" text-anchor="start" fill="#111">Leuconostoc citreum</text>
<rect x="289.60" y="975.84" width="15.90" height="7.80" fill="#6E4A80" stroke="#464646" stroke-width="0.9"/>
<text x="308.00" y="982.64" font-size="7.35" font-weight="bold" font-style="italic" text-anchor="start" fill="#111">Weissella ceti</text>
<rect x="289.60" y="984.97" width="15.90" height="7.80" fill="#8A5AB0" stroke="#464646" stroke-width="0.9"/>
<text x="308.00" y="991.77" font-size="7.35" font-weight="bold" font-style="italic" text-anchor="start" fill="#111">Weissella minor</text>
<rect x="289.60" y="994.10" width="15.90" height="7.80" fill="#D6C6E5" stroke="#464646" stroke-width="0.9"/>
<text x="308.00" y="1000.90" font-size="7.35" font-weight="bold" font-style="italic" text-anchor="start" fill="#111">Staphylococcus saprophyticus</text>
<rect x="289.60" y="1003.23" width="15.90" height="7.80" fill="#C69A90" stroke="#464646" stroke-width="0.9"/>
<text x="308.00" y="1010.03" font-size="7.35" font-weight="bold" font-style="italic" text-anchor="start" fill="#111">Macrococcus caseolyticus</text>
<rect x="289.60" y="1012.36" width="15.90" height="7.80" fill="#E6D8CC" stroke="#464646" stroke-width="0.9"/>
<text x="308.00" y="1019.16" font-size="7.35" font-weight="bold" font-style="italic" text-anchor="start" fill="#111">Lactococcus garvieae</text>
<rect x="289.60" y="1021.49" width="15.90" height="7.80" fill="#F07870" stroke="#464646" stroke-width="0.9"/>
<text x="308.00" y="1028.29" font-size="7.35" font-weight="bold" font-style="italic" text-anchor="start" fill="#111">Weissella hellenica</text>
<rect x="289.60" y="1030.62" width="15.90" height="7.80" fill="#EDAF62" stroke="#464646" stroke-width="0.9"/>
<text x="308.00" y="1037.42" font-size="7.35" font-weight="bold" font-style="italic" text-anchor="start" fill="#111">Latilactobacillus sakei</text>
<rect x="289.60" y="1039.75" width="15.90" height="7.80" fill="#8AC25B" stroke="#464646" stroke-width="0.9"/>
<text x="308.00" y="1046.55" font-size="7.35" font-weight="bold" font-style="italic" text-anchor="start" fill="#111">Lactococcus lactis</text>
<rect x="289.60" y="1048.88" width="15.90" height="7.80" fill="#85B5D5" stroke="#464646" stroke-width="0.9"/>
<text x="308.00" y="1055.68" font-size="7.35" font-weight="bold" font-style="italic" text-anchor="start" fill="#111">Lacticaseibacillus rhamnosus</text>
<line x1="289.00" y1="800.10" x2="416.00" y2="800.10" stroke="#111" stroke-width="1.1" stroke-dasharray="4,2.6"/>
<rect x="413.50" y="792.30" width="269.50" height="309.20" fill="white" stroke="#333" stroke-width="1.1"/>
<rect x="459.20" y="802.40" width="33.30" height="17.30" fill="#7EA3D0" rx="2"/>
<text x="0.00" y="0.00" font-size="7.8" font-weight="bold" stroke="#111" stroke-width="0.3" text-anchor="middle" transform="translate(475.85 814.12) scale(0.9 1)" fill="#111">0.29</text>
<rect x="493.95" y="802.40" width="33.30" height="17.30" fill="#D5E0EA" rx="2"/>
<text x="0.00" y="0.00" font-size="7.8" font-weight="bold" stroke="#111" stroke-width="0.3" text-anchor="middle" transform="translate(510.60 814.12) scale(0.9 1)" fill="#111">0.39</text>
<rect x="528.70" y="802.40" width="33.30" height="17.30" fill="#7EA3D0" rx="2"/>
<text x="0.00" y="0.00" font-size="7.8" font-weight="bold" stroke="#111" stroke-width="0.3" text-anchor="middle" transform="translate(545.35 814.12) scale(0.9 1)" fill="#111">1.31</text>
<rect x="563.45" y="802.40" width="33.30" height="17.30" fill="#4570B4" rx="2"/>
<text x="0.00" y="0.00" font-size="7.8" font-weight="bold" stroke="#111" stroke-width="0.3" text-anchor="middle" transform="translate(580.10 814.12) scale(0.9 1)" fill="#111">2.40</text>
<text x="599.80" y="814.20" font-size="8.1" font-weight="bold" text-anchor="start" fill="#111">0D-C0</text>
<rect x="459.20" y="820.92" width="33.30" height="17.30" fill="#4570B4" rx="2"/>
<text x="0.00" y="0.00" font-size="7.8" font-weight="bold" stroke="#111" stroke-width="0.3" text-anchor="middle" transform="translate(475.85 832.64) scale(0.9 1)" fill="#111">0.40</text>
<rect x="493.95" y="820.92" width="33.30" height="17.30" fill="#DFE5EB" rx="2"/>
<text x="0.00" y="0.00" font-size="7.8" font-weight="bold" stroke="#111" stroke-width="0.3" text-anchor="middle" transform="translate(510.60 832.64) scale(0.9 1)" fill="#111">0.24</text>
<rect x="528.70" y="820.92" width="33.30" height="17.30" fill="#4570B4" rx="2"/>
<text x="0.00" y="0.00" font-size="7.8" font-weight="bold" stroke="#111" stroke-width="0.3" text-anchor="middle" transform="translate(545.35 832.64) scale(0.9 1)" fill="#111">1.80</text>
<rect x="563.45" y="820.92" width="33.30" height="17.30" fill="#B9D3E6" rx="2"/>
<text x="0.00" y="0.00" font-size="7.8" font-weight="bold" stroke="#111" stroke-width="0.3" text-anchor="middle" transform="translate(580.10 832.64) scale(0.9 1)" fill="#111">1.09</text>
<text x="599.80" y="832.72" font-size="8.1" font-weight="bold" text-anchor="start" fill="#111">0D-C1</text>
<rect x="459.20" y="839.44" width="33.30" height="17.30" fill="#BDD5E8" rx="2"/>
<text x="0.00" y="0.00" font-size="7.8" font-weight="bold" stroke="#111" stroke-width="0.3" text-anchor="middle" transform="translate(475.85 851.16) scale(0.9 1)" fill="#111">0.18</text>
<rect x="493.95" y="839.44" width="33.30" height="17.30" fill="#E5E8EB" rx="2"/>
<text x="0.00" y="0.00" font-size="7.8" font-weight="bold" stroke="#111" stroke-width="0.3" text-anchor="middle" transform="translate(510.60 851.16) scale(0.9 1)" fill="#111">0.10</text>
<rect x="528.70" y="839.44" width="33.30" height="17.30" fill="#D0DDE8" rx="2"/>
<text x="0.00" y="0.00" font-size="7.8" font-weight="bold" stroke="#111" stroke-width="0.3" text-anchor="middle" transform="translate(545.35 851.16) scale(0.9 1)" fill="#111">0.55</text>
<rect x="563.45" y="839.44" width="33.30" height="17.30" fill="#D8E2EA" rx="2"/>
<text x="0.00" y="0.00" font-size="7.8" font-weight="bold" stroke="#111" stroke-width="0.3" text-anchor="middle" transform="translate(580.10 851.16) scale(0.9 1)" fill="#111">0.46</text>
<text x="599.80" y="851.24" font-size="8.1" font-weight="bold" text-anchor="start" fill="#111">0D-LR1</text>
<rect x="459.20" y="857.96" width="33.30" height="17.30" fill="#E9EAEC" rx="2"/>
<text x="0.00" y="0.00" font-size="7.8" font-weight="bold" stroke="#111" stroke-width="0.3" text-anchor="middle" transform="translate(475.85 869.68) scale(0.9 1)" fill="#111">0.03</text>
<rect x="493.95" y="857.96" width="33.30" height="17.30" fill="#E8EAEC" rx="2"/>
<text x="0.00" y="0.00" font-size="7.8" font-weight="bold" stroke="#111" stroke-width="0.3" text-anchor="middle" transform="translate(510.60 869.68) scale(0.9 1)" fill="#111">0.07</text>
<rect x="528.70" y="857.96" width="33.30" height="17.30" fill="#E8EAEC" rx="2"/>
<text x="0.00" y="0.00" font-size="7.8" font-weight="bold" stroke="#111" stroke-width="0.3" text-anchor="middle" transform="translate(545.35 869.68) scale(0.9 1)" fill="#111">0.09</text>
<rect x="563.45" y="857.96" width="33.30" height="17.30" fill="#E4E7EA" rx="2"/>
<text x="0.00" y="0.00" font-size="7.8" font-weight="bold" stroke="#111" stroke-width="0.3" text-anchor="middle" transform="translate(580.10 869.68) scale(0.9 1)" fill="#111">0.18</text>
<text x="599.80" y="869.76" font-size="8.1" font-weight="bold" text-anchor="start" fill="#111">0D-LR2</text>
<rect x="459.20" y="876.48" width="33.30" height="17.30" fill="#EDEDED" rx="2"/>
<text x="0.00" y="0.00" font-size="7.8" font-weight="bold" stroke="#111" stroke-width="0.3" text-anchor="middle" transform="translate(475.85 888.20) scale(0.9 1)" fill="#111">0.00</text>
<rect x="493.95" y="876.48" width="33.30" height="17.30" fill="#C8DAE9" rx="2"/>
<text x="0.00" y="0.00" font-size="7.8" font-weight="bold" stroke="#111" stroke-width="0.3" text-anchor="middle" transform="translate(510.60 888.20) scale(0.9 1)" fill="#111">0.46</text>
<rect x="528.70" y="876.48" width="33.30" height="17.30" fill="#EDEDED" rx="2"/>
<text x="0.00" y="0.00" font-size="7.8" font-weight="bold" stroke="#111" stroke-width="0.3" text-anchor="middle" transform="translate(545.35 888.20) scale(0.9 1)" fill="#111">0.00</text>
<rect x="563.45" y="876.48" width="33.30" height="17.30" fill="#CCDCE8" rx="2"/>
<text x="0.00" y="0.00" font-size="7.8" font-weight="bold" stroke="#111" stroke-width="0.3" text-anchor="middle" transform="translate(580.10 888.20) scale(0.9 1)" fill="#111">0.65</text>
<text x="599.80" y="888.28" font-size="8.1" font-weight="bold" text-anchor="start" fill="#111">3D-C0</text>
<rect x="459.20" y="895.00" width="33.30" height="17.30" fill="#EBEBEC" rx="2"/>
<text x="0.00" y="0.00" font-size="7.8" font-weight="bold" stroke="#111" stroke-width="0.3" text-anchor="middle" transform="translate(475.85 906.72) scale(0.9 1)" fill="#111">0.02</text>
<rect x="493.95" y="895.00" width="33.30" height="17.30" fill="#E5E8EB" rx="2"/>
<text x="0.00" y="0.00" font-size="7.8" font-weight="bold" stroke="#111" stroke-width="0.3" text-anchor="middle" transform="translate(510.60 906.72) scale(0.9 1)" fill="#111">0.10</text>
<rect x="528.70" y="895.00" width="33.30" height="17.30" fill="#EBEBEC" rx="2"/>
<text x="0.00" y="0.00" font-size="7.8" font-weight="bold" stroke="#111" stroke-width="0.3" text-anchor="middle" transform="translate(545.35 906.72) scale(0.9 1)" fill="#111">0.02</text>
<rect x="563.45" y="895.00" width="33.30" height="17.30" fill="#D0DDE8" rx="2"/>
<text x="0.00" y="0.00" font-size="7.8" font-weight="bold" stroke="#111" stroke-width="0.3" text-anchor="middle" transform="translate(580.10 906.72) scale(0.9 1)" fill="#111">0.55</text>
<text x="599.80" y="906.80" font-size="8.1" font-weight="bold" text-anchor="start" fill="#111">3D-C1</text>
<rect x="459.20" y="913.52" width="33.30" height="17.30" fill="#EDEDED" rx="2"/>
<text x="0.00" y="0.00" font-size="7.8" font-weight="bold" stroke="#111" stroke-width="0.3" text-anchor="middle" transform="translate(475.85 925.24) scale(0.9 1)" fill="#111">0.00</text>
<rect x="493.95" y="913.52" width="33.30" height="17.30" fill="#EDEDED" rx="2"/>
<text x="0.00" y="0.00" font-size="7.8" font-weight="bold" stroke="#111" stroke-width="0.3" text-anchor="middle" transform="translate(510.60 925.24) scale(0.9 1)" fill="#111">0.00</text>
<rect x="528.70" y="913.52" width="33.30" height="17.30" fill="#EDEDED" rx="2"/>
<text x="0.00" y="0.00" font-size="7.8" font-weight="bold" stroke="#111" stroke-width="0.3" text-anchor="middle" transform="translate(545.35 925.24) scale(0.9 1)" fill="#111">0.00</text>
<rect x="563.45" y="913.52" width="33.30" height="17.30" fill="#EAEBEC" rx="2"/>
<text x="0.00" y="0.00" font-size="7.8" font-weight="bold" stroke="#111" stroke-width="0.3" text-anchor="middle" transform="translate(580.10 925.24) scale(0.9 1)" fill="#111">0.07</text>
<text x="599.80" y="925.32" font-size="8.1" font-weight="bold" text-anchor="start" fill="#111">3D-LR1</text>
<rect x="459.20" y="932.04" width="33.30" height="17.30" fill="#EBEBEC" rx="2"/>
<text x="0.00" y="0.00" font-size="7.8" font-weight="bold" stroke="#111" stroke-width="0.3" text-anchor="middle" transform="translate(475.85 943.76) scale(0.9 1)" fill="#111">0.01</text>
<rect x="493.95" y="932.04" width="33.30" height="17.30" fill="#EBEBEC" rx="2"/>
<text x="0.00" y="0.00" font-size="7.8" font-weight="bold" stroke="#111" stroke-width="0.3" text-anchor="middle" transform="translate(510.60 943.76) scale(0.9 1)" fill="#111">0.01</text>
<rect x="528.70" y="932.04" width="33.30" height="17.30" fill="#EDEDED" rx="2"/>
<text x="0.00" y="0.00" font-size="7.8" font-weight="bold" stroke="#111" stroke-width="0.3" text-anchor="middle" transform="translate(545.35 943.76) scale(0.9 1)" fill="#111">0.00</text>
<rect x="563.45" y="932.04" width="33.30" height="17.30" fill="#EAEBEC" rx="2"/>
<text x="0.00" y="0.00" font-size="7.8" font-weight="bold" stroke="#111" stroke-width="0.3" text-anchor="middle" transform="translate(580.10 943.76) scale(0.9 1)" fill="#111">0.07</text>
<text x="599.80" y="943.84" font-size="8.1" font-weight="bold" text-anchor="start" fill="#111">3D-LR2</text>
<rect x="459.20" y="950.56" width="33.30" height="17.30" fill="#EDEDED" rx="2"/>
<text x="0.00" y="0.00" font-size="7.8" font-weight="bold" stroke="#111" stroke-width="0.3" text-anchor="middle" transform="translate(475.85 962.28) scale(0.9 1)" fill="#111">0.00</text>
<rect x="493.95" y="950.56" width="33.30" height="17.30" fill="#4570B4" rx="2"/>
<text x="0.00" y="0.00" font-size="7.8" font-weight="bold" stroke="#111" stroke-width="0.3" text-anchor="middle" transform="translate(510.60 962.28) scale(0.9 1)" fill="#111">1.48</text>
<rect x="528.70" y="950.56" width="33.30" height="17.30" fill="#EDEDED" rx="2"/>
<text x="0.00" y="0.00" font-size="7.8" font-weight="bold" stroke="#111" stroke-width="0.3" text-anchor="middle" transform="translate(545.35 962.28) scale(0.9 1)" fill="#111">0.00</text>
<rect x="563.45" y="950.56" width="33.30" height="17.30" fill="#C3D8E8" rx="2"/>
<text x="0.00" y="0.00" font-size="7.8" font-weight="bold" stroke="#111" stroke-width="0.3" text-anchor="middle" transform="translate(580.10 962.28) scale(0.9 1)" fill="#111">0.86</text>
<text x="599.80" y="962.36" font-size="8.1" font-weight="bold" text-anchor="start" fill="#111">12D-C0</text>
<rect x="459.20" y="969.08" width="33.30" height="17.30" fill="#EDEDED" rx="2"/>
<text x="0.00" y="0.00" font-size="7.8" font-weight="bold" stroke="#111" stroke-width="0.3" text-anchor="middle" transform="translate(475.85 980.80) scale(0.9 1)" fill="#111">0.00</text>
<rect x="493.95" y="969.08" width="33.30" height="17.30" fill="#A8C7E2" rx="2"/>
<text x="0.00" y="0.00" font-size="7.8" font-weight="bold" stroke="#111" stroke-width="0.3" text-anchor="middle" transform="translate(510.60 980.80) scale(0.9 1)" fill="#111">0.82</text>
<rect x="528.70" y="969.08" width="33.30" height="17.30" fill="#ECECEC" rx="2"/>
<text x="0.00" y="0.00" font-size="7.8" font-weight="bold" stroke="#111" stroke-width="0.3" text-anchor="middle" transform="translate(545.35 980.80) scale(0.9 1)" fill="#111">0.01</text>
<rect x="563.45" y="969.08" width="33.30" height="17.30" fill="#D6E0E9" rx="2"/>
<text x="0.00" y="0.00" font-size="7.8" font-weight="bold" stroke="#111" stroke-width="0.3" text-anchor="middle" transform="translate(580.10 980.80) scale(0.9 1)" fill="#111">0.48</text>
<text x="599.80" y="980.88" font-size="8.1" font-weight="bold" text-anchor="start" fill="#111">12D-C1</text>
<rect x="459.20" y="987.60" width="33.30" height="17.30" fill="#EDEDED" rx="2"/>
<text x="0.00" y="0.00" font-size="7.8" font-weight="bold" stroke="#111" stroke-width="0.3" text-anchor="middle" transform="translate(475.85 999.32) scale(0.9 1)" fill="#111">0.00</text>
<rect x="493.95" y="987.60" width="33.30" height="17.30" fill="#EDEDED" rx="2"/>
<text x="0.00" y="0.00" font-size="7.8" font-weight="bold" stroke="#111" stroke-width="0.3" text-anchor="middle" transform="translate(510.60 999.32) scale(0.9 1)" fill="#111">0.00</text>
<rect x="528.70" y="987.60" width="33.30" height="17.30" fill="#EDEDED" rx="2"/>
<text x="0.00" y="0.00" font-size="7.8" font-weight="bold" stroke="#111" stroke-width="0.3" text-anchor="middle" transform="translate(545.35 999.32) scale(0.9 1)" fill="#111">0.00</text>
<rect x="563.45" y="987.60" width="33.30" height="17.30" fill="#EBEBEC" rx="2"/>
<text x="0.00" y="0.00" font-size="7.8" font-weight="bold" stroke="#111" stroke-width="0.3" text-anchor="middle" transform="translate(580.10 999.32) scale(0.9 1)" fill="#111">0.06</text>
<text x="599.80" y="999.40" font-size="8.1" font-weight="bold" text-anchor="start" fill="#111">12D-LR1</text>
<rect x="459.20" y="1006.12" width="33.30" height="17.30" fill="#EDEDED" rx="2"/>
<text x="0.00" y="0.00" font-size="7.8" font-weight="bold" stroke="#111" stroke-width="0.3" text-anchor="middle" transform="translate(475.85 1017.84) scale(0.9 1)" fill="#111">0.00</text>
<rect x="493.95" y="1006.12" width="33.30" height="17.30" fill="#EAEBEC" rx="2"/>
<text x="0.00" y="0.00" font-size="7.8" font-weight="bold" stroke="#111" stroke-width="0.3" text-anchor="middle" transform="translate(510.60 1017.84) scale(0.9 1)" fill="#111">0.05</text>
<rect x="528.70" y="1006.12" width="33.30" height="17.30" fill="#ECECEC" rx="2"/>
<text x="0.00" y="0.00" font-size="7.8" font-weight="bold" stroke="#111" stroke-width="0.3" text-anchor="middle" transform="translate(545.35 1017.84) scale(0.9 1)" fill="#111">0.01</text>
<rect x="563.45" y="1006.12" width="33.30" height="17.30" fill="#E7E9EB" rx="2"/>
<text x="0.00" y="0.00" font-size="7.8" font-weight="bold" stroke="#111" stroke-width="0.3" text-anchor="middle" transform="translate(580.10 1017.84) scale(0.9 1)" fill="#111">0.11</text>
<text x="599.80" y="1017.92" font-size="8.1" font-weight="bold" text-anchor="start" fill="#111">12D-LR2</text>
<rect x="652.6" y="847.9" width="10.600000000000023" height="83.60000000000002" fill="url(#cb)"/>
<line x1="663.60" y1="847.90" x2="663.60" y2="931.50" stroke="#333" stroke-width="0.9"/>
<line x1="663.60" y1="931.50" x2="665.40" y2="931.50" stroke="#333" stroke-width="0.9"/>
<text x="666.00" y="934.88" font-size="6.7" font-weight="bold" text-anchor="start" fill="#111">0.00</text>
<line x1="663.60" y1="914.78" x2="665.40" y2="914.78" stroke="#333" stroke-width="0.9"/>
<text x="666.00" y="918.16" font-size="6.7" font-weight="bold" text-anchor="start" fill="#111">0.20</text>
<line x1="663.60" y1="898.06" x2="665.40" y2="898.06" stroke="#333" stroke-width="0.9"/>
<text x="666.00" y="901.44" font-size="6.7" font-weight="bold" text-anchor="start" fill="#111">0.40</text>
<line x1="663.60" y1="881.34" x2="665.40" y2="881.34" stroke="#333" stroke-width="0.9"/>
<text x="666.00" y="884.72" font-size="6.7" font-weight="bold" text-anchor="start" fill="#111">0.60</text>
<line x1="663.60" y1="864.62" x2="665.40" y2="864.62" stroke="#333" stroke-width="0.9"/>
<text x="666.00" y="868.00" font-size="6.7" font-weight="bold" text-anchor="start" fill="#111">0.80</text>
<line x1="663.60" y1="847.90" x2="665.40" y2="847.90" stroke="#333" stroke-width="0.9"/>
<text x="666.00" y="851.28" font-size="6.7" font-weight="bold" text-anchor="start" fill="#111">1.00</text>
<text x="480.20" y="1031.60" font-size="7.75" font-weight="bold" font-style="italic" text-anchor="end" transform="rotate(-45 480.20 1031.60)" fill="#111">Pseudomonas psychrophila</text>
<text x="514.80" y="1031.60" font-size="7.75" font-weight="bold" font-style="italic" text-anchor="end" transform="rotate(-45 514.80 1031.60)" fill="#111">Hafnia alvei</text>
<text x="549.30" y="1031.60" font-size="7.75" font-weight="bold" font-style="italic" text-anchor="end" transform="rotate(-45 549.30 1031.60)" fill="#111">Pantoea agglomerans</text>
<text x="584.20" y="1030.80" font-size="7.75" font-weight="bold" font-style="italic" text-anchor="end" transform="rotate(-45 584.20 1030.80)" fill="#111">Klebsiella oxytoca</text>
</svg></body></html>
